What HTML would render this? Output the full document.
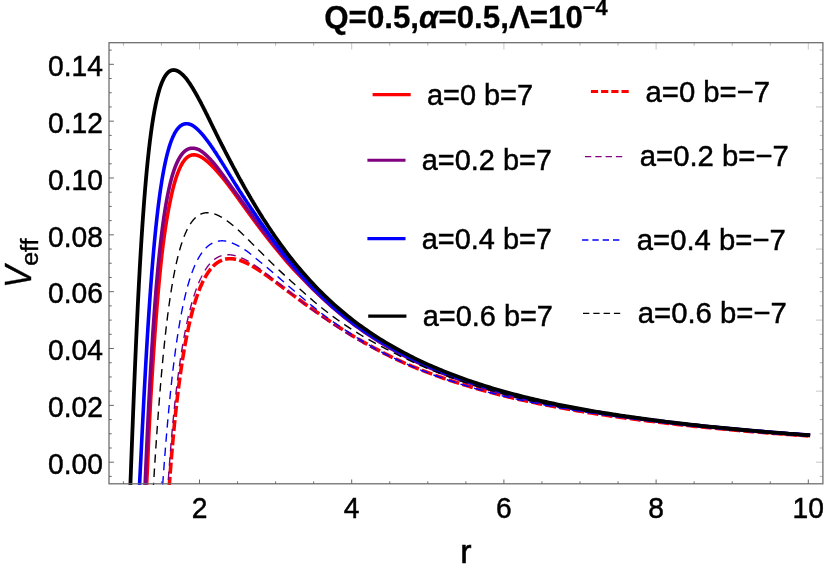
<!DOCTYPE html><html><head><meta charset="utf-8"><title>Veff</title><style>html,body{margin:0;padding:0;background:#fff}svg{display:block;will-change:transform}text{font-family:"Liberation Sans",sans-serif;fill:#000}</style></head><body>
<svg width="830" height="572" viewBox="0 0 830 572">
<rect width="830" height="572" fill="#fff"/>
<defs><clipPath id="c"><rect x="109.0" y="42.7" width="713.9" height="442.40000000000003"/></clipPath></defs>
<g clip-path="url(#c)" fill="none" stroke-linejoin="round">
<path d="M146.23 492.16 L146.37 489.25 L146.52 486.34 L146.67 483.43 L146.81 480.53 L146.96 477.64 L147.11 474.76 L147.25 471.89 L147.39 469.02 L147.51 466.16 L147.63 463.32 L147.75 460.48 L147.87 457.65 L147.99 454.84 L148.10 452.04 L148.22 449.24 L148.34 446.46 L148.46 443.69 L148.59 440.94 L148.71 438.20 L148.83 435.47 L148.96 432.75 L149.08 430.05 L149.21 427.36 L149.34 424.69 L149.47 422.03 L149.60 419.38 L149.73 416.75 L149.87 414.14 L150.00 411.54 L150.14 408.95 L150.28 406.38 L150.42 403.83 L150.57 401.29 L150.71 398.77 L150.86 396.26 L151.01 393.77 L151.15 391.30 L151.30 388.84 L151.45 386.40 L151.59 383.98 L151.74 381.57 L151.89 379.18 L152.03 376.80 L152.18 374.44 L152.33 372.10 L152.47 369.78 L152.62 367.47 L152.77 365.18 L152.91 362.91 L153.06 360.65 L153.21 358.41 L153.35 356.19 L153.50 353.98 L153.65 351.79 L153.79 349.62 L153.94 347.47 L154.09 345.33 L154.23 343.21 L154.38 341.11 L154.53 339.02 L154.68 336.95 L154.82 334.90 L154.97 332.86 L155.12 330.84 L155.26 328.84 L155.41 326.85 L155.56 324.88 L155.70 322.93 L155.85 320.99 L156.00 319.07 L156.14 317.17 L156.29 315.28 L156.44 313.41 L156.58 311.55 L156.73 309.72 L156.88 307.89 L157.02 306.09 L157.17 304.30 L157.32 302.52 L157.46 300.76 L157.61 299.02 L157.76 297.29 L157.90 295.58 L158.05 293.89 L158.20 292.20 L158.34 290.54 L158.49 288.89 L158.64 287.25 L158.78 285.64 L158.93 284.03 L159.08 282.44 L159.22 280.87 L159.37 279.31 L159.52 277.76 L159.66 276.23 L159.81 274.72 L159.96 273.21 L160.10 271.73 L160.25 270.25 L160.40 268.80 L160.54 267.35 L160.69 265.92 L160.84 264.50 L160.98 263.10 L161.13 261.71 L161.28 260.34 L161.42 258.98 L161.57 257.63 L161.72 256.29 L161.87 254.97 L162.02 253.66 L162.17 252.37 L162.32 251.08 L162.47 249.81 L162.62 248.56 L162.78 247.31 L162.93 246.08 L163.08 244.86 L163.24 243.66 L163.39 242.46 L163.55 241.28 L163.70 240.11 L163.86 238.95 L164.01 237.81 L164.17 236.67 L164.33 235.55 L164.48 234.44 L164.64 233.34 L164.80 232.26 L164.95 231.18 L165.11 230.12 L165.27 229.06 L165.42 228.02 L165.58 226.99 L165.74 225.97 L165.90 224.96 L166.05 223.96 L166.21 222.98 L166.37 222.00 L166.53 221.03 L166.68 220.08 L166.84 219.13 L167.00 218.20 L167.15 217.27 L167.31 216.36 L167.47 215.45 L167.63 214.56 L167.78 213.68 L167.94 212.80 L168.10 211.94 L168.25 211.08 L168.41 210.23 L168.56 209.40 L168.72 208.57 L168.88 207.75 L169.03 206.95 L169.19 206.15 L169.34 205.36 L169.50 204.58 L169.65 203.80 L169.81 203.04 L169.96 202.29 L170.12 201.54 L170.27 200.80 L170.43 200.08 L170.58 199.36 L170.72 198.64 L170.87 197.94 L171.02 197.25 L171.16 196.56 L171.31 195.88 L171.46 195.21 L171.60 194.55 L171.75 193.89 L171.90 193.25 L172.04 192.61 L172.19 191.98 L172.34 191.35 L172.48 190.74 L172.63 190.13 L172.78 189.53 L172.92 188.94 L173.07 188.35 L173.22 187.77 L173.36 187.20 L173.51 186.63 L173.66 186.08 L173.80 185.53 L173.95 184.98 L174.10 184.45 L174.24 183.92 L174.39 183.39 L174.54 182.88 L174.68 182.37 L174.83 181.87 L174.98 181.37 L175.12 180.88 L175.27 180.40 L175.42 179.92 L175.56 179.45 L175.71 178.98 L175.86 178.52 L176.00 178.07 L176.15 177.62 L176.30 177.18 L176.44 176.75 L176.59 176.32 L176.74 175.90 L176.88 175.48 L177.03 175.07 L177.18 174.67 L177.32 174.27 L177.47 173.87 L177.62 173.48 L177.76 173.08 L177.91 172.68 L178.06 172.30 L178.20 171.91 L178.35 171.54 L178.50 171.16 L178.64 170.80 L178.79 170.44 L178.94 170.08 L179.08 169.73 L179.23 169.38 L179.38 169.04 L179.52 168.71 L179.67 168.38 L179.82 168.06 L179.96 167.74 L180.11 167.42 L180.26 167.11 L180.40 166.81 L180.55 166.51 L180.70 166.21 L180.84 165.92 L180.99 165.64 L181.14 165.35 L181.28 165.08 L181.43 164.81 L181.58 164.54 L181.72 164.28 L181.87 164.02 L182.02 163.76 L182.16 163.52 L182.31 163.27 L182.46 163.03 L182.60 162.79 L182.75 162.56 L182.90 162.33 L183.04 162.11 L183.19 161.89 L183.34 161.67 L183.48 161.46 L183.63 161.25 L183.78 161.05 L183.92 160.85 L184.07 160.66 L184.22 160.46 L184.36 160.28 L184.51 160.09 L184.66 159.91 L184.80 159.73 L184.95 159.56 L185.10 159.39 L185.24 159.22 L185.39 159.06 L185.54 158.90 L185.68 158.75 L185.83 158.60 L185.98 158.45 L186.12 158.30 L186.27 158.16 L186.42 158.02 L186.56 157.89 L186.71 157.76 L186.86 157.63 L187.00 157.51 L187.15 157.38 L187.30 157.27 L187.44 157.15 L187.59 157.04 L187.74 156.93 L187.88 156.82 L188.03 156.72 L188.18 156.62 L188.32 156.53 L188.47 156.43 L188.62 156.34 L188.76 156.25 L188.91 156.17 L189.06 156.09 L189.20 156.01 L189.35 155.93 L189.50 155.86 L189.65 155.79 L189.79 155.72 L189.94 155.65 L190.09 155.59 L190.23 155.53 L190.38 155.47 L190.53 155.42 L190.67 155.36 L190.82 155.31 L190.97 155.27 L191.11 155.22 L191.26 155.18 L191.41 155.14 L191.55 155.10 L191.70 155.07 L191.85 155.04 L191.99 155.01 L192.14 154.98 L192.29 154.96 L192.43 154.93 L192.58 154.91 L192.73 154.89 L192.87 154.88 L193.02 154.86 L193.17 154.85 L193.31 154.84 L193.46 154.84 L193.61 154.83 L193.75 154.83 L193.90 154.83 L194.05 154.83 L194.19 154.83 L194.34 154.84 L194.49 154.85 L194.63 154.86 L194.78 154.87 L194.93 154.88 L195.07 154.90 L195.22 154.92 L195.37 154.94 L195.51 154.96 L195.66 154.98 L195.81 155.00 L195.95 155.03 L196.10 155.06 L196.25 155.09 L196.39 155.12 L196.54 155.16 L196.69 155.19 L196.83 155.23 L196.98 155.27 L197.13 155.31 L197.27 155.35 L197.42 155.39 L197.57 155.44 L197.71 155.49 L197.86 155.53 L198.01 155.58 L198.15 155.64 L198.30 155.69 L198.45 155.74 L198.59 155.80 L198.74 155.86 L198.89 155.92 L199.03 155.98 L199.18 156.04 L199.33 156.10 L199.47 156.17 L199.62 156.24 L199.77 156.30 L199.91 156.37 L200.06 156.44 L200.21 156.52 L200.35 156.59 L200.50 156.67 L200.65 156.74 L200.79 156.82 L200.94 156.90 L201.09 156.98 L201.23 157.06 L201.38 157.14 L201.53 157.23 L201.67 157.31 L201.82 157.40 L201.97 157.49 L202.11 157.58 L202.26 157.67 L202.41 157.76 L202.55 157.85 L202.70 157.94 L202.85 158.04 L202.99 158.14 L203.14 158.23 L203.29 158.33 L203.43 158.43 L203.58 158.53 L203.73 158.63 L203.87 158.74 L204.02 158.84 L204.17 158.95 L204.31 159.05 L204.46 159.16 L204.61 159.27 L204.75 159.38 L204.90 159.49 L205.05 159.60 L205.19 159.71 L205.34 159.83 L205.49 159.94 L205.63 160.05 L205.78 160.17 L205.93 160.29 L206.07 160.41 L206.22 160.53 L206.37 160.65 L206.51 160.77 L206.66 160.89 L206.81 161.01 L206.95 161.14 L207.10 161.26 L207.25 161.39 L207.39 161.51 L207.54 161.64 L207.69 161.77 L207.83 161.90 L207.98 162.03 L208.13 162.16 L208.27 162.29 L208.42 162.43 L208.57 162.56 L208.71 162.69 L208.86 162.83 L209.01 162.96 L209.15 163.10 L209.30 163.24 L209.45 163.38 L209.59 163.52 L209.74 163.65 L209.89 163.80 L210.03 163.94 L210.18 164.08 L210.33 164.22 L210.47 164.36 L210.62 164.51 L210.77 164.65 L210.91 164.80 L211.06 164.94 L211.21 165.09 L211.35 165.23 L211.50 165.38 L211.65 165.53 L211.79 165.68 L211.94 165.82 L212.09 165.97 L212.23 166.12 L212.38 166.27 L212.53 166.42 L212.67 166.57 L212.82 166.72 L212.97 166.87 L213.11 167.03 L213.26 167.18 L213.41 167.33 L213.55 167.48 L213.70 167.64 L213.85 167.79 L213.99 167.95 L214.14 168.10 L214.29 168.26 L214.43 168.41 L214.58 168.57 L214.73 168.72 L214.87 168.88 L215.02 169.04 L215.17 169.20 L215.31 169.35 L215.46 169.51 L215.61 169.67 L215.75 169.83 L215.90 169.99 L216.05 170.15 L216.19 170.31 L216.34 170.47 L216.49 170.64 L216.63 170.80 L216.78 170.96 L216.93 171.12 L217.07 171.29 L217.22 171.45 L217.37 171.62 L217.51 171.78 L217.66 171.94 L217.81 172.11 L217.95 172.28 L218.10 172.44 L218.25 172.61 L218.39 172.78 L218.54 172.94 L218.69 173.11 L218.83 173.28 L218.98 173.45 L219.13 173.62 L219.27 173.79 L219.42 173.96 L219.57 174.13 L219.71 174.30 L219.86 174.47 L220.01 174.64 L220.15 174.81 L220.30 174.98 L220.45 175.16 L220.59 175.33 L220.74 175.50 L220.89 175.68 L221.03 175.85 L221.18 176.03 L221.33 176.20 L221.47 176.38 L221.62 176.55 L221.77 176.73 L221.91 176.91 L222.06 177.08 L222.21 177.26 L222.35 177.44 L222.50 177.62 L222.65 177.80 L222.79 177.97 L222.94 178.15 L223.09 178.33 L223.23 178.51 L223.38 178.70 L223.53 178.88 L223.67 179.06 L223.82 179.24 L223.97 179.42 L224.12 179.61 L224.26 179.79 L224.41 179.97 L224.56 180.16 L224.70 180.34 L224.85 180.53 L225.00 180.71 L225.14 180.90 L225.29 181.08 L225.44 181.27 L225.58 181.46 L225.73 181.65 L225.88 181.83 L226.02 182.02 L226.17 182.21 L226.32 182.40 L226.46 182.59 L226.61 182.78 L226.76 182.97 L226.90 183.16 L227.05 183.35 L227.20 183.55 L227.34 183.74 L227.49 183.93 L227.64 184.12 L227.78 184.32 L227.93 184.51 L228.08 184.70 L228.22 184.90 L228.37 185.09 L228.52 185.29 L228.66 185.48 L228.81 185.68 L228.96 185.87 L229.10 186.07 L229.25 186.26 L229.40 186.46 L229.54 186.65 L229.69 186.85 L229.84 187.05 L229.98 187.24 L230.13 187.44 L230.28 187.64 L230.42 187.83 L230.57 188.03 L230.72 188.23 L230.86 188.43 L231.01 188.62 L231.16 188.82 L231.30 189.02 L231.45 189.22 L231.60 189.42 L231.74 189.62 L231.89 189.81 L232.04 190.01 L232.18 190.21 L232.33 190.41 L232.48 190.61 L232.62 190.81 L232.77 191.01 L232.92 191.21 L233.06 191.41 L233.21 191.61 L233.36 191.81 L233.50 192.01 L233.65 192.21 L233.80 192.41 L233.94 192.62 L234.09 192.82 L234.24 193.02 L234.38 193.22 L234.53 193.42 L234.68 193.62 L234.82 193.82 L234.97 194.02 L235.12 194.23 L235.26 194.43 L235.41 194.63 L235.56 194.83 L235.70 195.03 L235.85 195.24 L236.00 195.44 L236.14 195.64 L236.29 195.84 L236.44 196.05 L236.58 196.25 L236.73 196.45 L236.88 196.65 L237.02 196.86 L237.17 197.06 L237.32 197.26 L237.46 197.47 L237.61 197.67 L237.76 197.87 L237.90 198.07 L238.05 198.28 L238.20 198.48 L238.34 198.68 L238.49 198.89 L238.64 199.09 L238.78 199.29 L238.93 199.50 L239.08 199.70 L239.22 199.90 L239.37 200.11 L239.52 200.31 L239.66 200.52 L239.81 200.72 L239.96 200.92 L240.10 201.13 L240.25 201.33 L240.40 201.53 L240.54 201.74 L240.69 201.94 L240.84 202.14 L240.98 202.35 L241.13 202.55 L241.28 202.75 L241.42 202.96 L241.57 203.16 L241.72 203.37 L241.86 203.57 L242.01 203.77 L242.16 203.98 L242.30 204.18 L242.45 204.38 L242.60 204.59 L242.74 204.79 L242.89 204.99 L243.04 205.20 L243.18 205.40 L243.33 205.60 L243.48 205.81 L243.62 206.01 L243.77 206.21 L243.92 206.42 L244.06 206.62 L244.21 206.82 L244.36 207.03 L244.50 207.23 L244.65 207.43 L244.80 207.63 L244.94 207.84 L245.09 208.04 L245.24 208.24 L245.38 208.45 L245.53 208.65 L245.68 208.85 L245.82 209.05 L245.97 209.26 L246.12 209.46 L246.26 209.66 L246.41 209.86 L246.56 210.06 L246.70 210.27 L246.85 210.47 L247.00 210.67 L247.14 210.87 L247.29 211.07 L247.44 211.28 L247.58 211.48 L247.73 211.68 L247.88 211.88 L248.02 212.08 L248.17 212.28 L248.32 212.48 L248.46 212.68 L248.61 212.88 L248.76 213.09 L248.90 213.29 L249.05 213.49 L249.20 213.69 L249.34 213.89 L249.49 214.09 L249.64 214.29 L249.78 214.49 L249.93 214.69 L250.08 214.89 L250.22 215.09 L250.37 215.29 L250.52 215.49 L250.66 215.69 L250.81 215.89 L250.96 216.09 L251.10 216.28 L251.25 216.48 L251.40 216.68 L251.54 216.88 L251.69 217.08 L251.84 217.28 L251.98 217.48 L252.13 217.68 L252.28 217.88 L252.42 218.08 L252.57 218.28 L252.72 218.47 L252.86 218.67 L253.01 218.87 L253.16 219.07 L253.30 219.27 L253.45 219.47 L253.60 219.66 L253.74 219.86 L253.89 220.06 L254.04 220.26 L254.18 220.46 L254.33 220.65 L254.48 220.85 L254.62 221.05 L254.77 221.25 L254.92 221.44 L255.06 221.64 L255.21 221.84 L255.36 222.03 L255.50 222.23 L255.65 222.43 L255.80 222.63 L255.94 222.82 L256.09 223.02 L256.24 223.22 L256.38 223.41 L256.53 223.61 L256.68 223.80 L256.82 224.00 L256.97 224.20 L257.12 224.39 L257.26 224.59 L257.41 224.78 L257.56 224.98 L257.70 225.18 L257.85 225.37 L258.00 225.57 L258.14 225.76 L258.29 225.96 L258.44 226.15 L258.59 226.35 L258.73 226.54 L258.88 226.74 L259.03 226.93 L259.17 227.13 L259.32 227.32 L259.47 227.51 L259.61 227.71 L259.76 227.90 L259.91 228.10 L260.05 228.29 L260.20 228.48 L260.35 228.68 L260.49 228.87 L260.64 229.06 L260.79 229.26 L260.93 229.45 L261.08 229.64 L261.23 229.84 L261.37 230.03 L261.52 230.22 L261.67 230.42 L261.81 230.61 L261.96 230.80 L262.11 230.99 L262.25 231.19 L262.40 231.38 L262.55 231.57 L262.69 231.76 L262.84 231.95 L262.99 232.15 L263.13 232.34 L263.28 232.53 L263.43 232.72 L263.57 232.91 L263.72 233.10 L263.87 233.29 L264.01 233.48 L264.16 233.67 L264.31 233.87 L264.45 234.06 L264.60 234.25 L264.75 234.44 L264.89 234.63 L265.04 234.82 L265.19 235.01 L265.33 235.20 L265.48 235.39 L265.63 235.58 L265.77 235.77 L265.92 235.96 L266.07 236.14 L266.21 236.33 L266.36 236.52 L266.51 236.71 L266.65 236.90 L266.80 237.09 L266.95 237.28 L267.09 237.47 L267.24 237.65 L267.39 237.84 L267.53 238.03 L267.68 238.22 L267.83 238.41 L267.97 238.59 L268.12 238.78 L268.27 238.97 L268.41 239.16 L268.56 239.34 L268.71 239.53 L268.85 239.72 L269.00 239.90 L269.15 240.09 L269.29 240.28 L269.44 240.46 L269.59 240.65 L269.73 240.84 L269.88 241.02 L270.03 241.21 L270.17 241.39 L270.32 241.58 L270.47 241.77 L270.61 241.95 L270.76 242.14 L270.91 242.32 L271.05 242.51 L271.20 242.69 L271.35 242.88 L271.49 243.06 L271.64 243.25 L271.79 243.43 L271.93 243.61 L272.08 243.80 L272.23 243.98 L272.37 244.17 L272.52 244.35 L272.67 244.53 L272.81 244.72 L272.96 244.90 L273.11 245.08 L273.25 245.27 L273.40 245.45 L273.55 245.63 L273.69 245.82 L273.84 246.00 L273.99 246.18 L274.13 246.36 L274.28 246.55 L274.43 246.73 L274.57 246.91 L274.72 247.09 L274.87 247.27 L275.01 247.45 L275.16 247.64 L275.31 247.82 L275.45 248.00 L275.60 248.18 L278.28 251.46 L280.95 254.69 L283.63 257.87 L286.31 261.00 L288.98 264.09 L291.66 267.12 L294.34 270.09 L297.02 272.84 L299.69 275.50 L302.37 278.32 L305.05 281.10 L307.72 283.83 L310.40 286.50 L313.08 289.13 L315.75 291.71 L318.43 294.24 L321.11 296.73 L323.78 299.16 L326.46 301.56 L329.14 303.90 L331.81 306.21 L334.49 308.46 L337.17 310.68 L339.85 312.85 L342.52 314.99 L345.20 317.08 L347.88 319.13 L350.55 321.16 L353.23 323.15 L355.91 325.11 L358.58 327.04 L361.26 328.93 L363.94 330.79 L366.61 332.63 L369.29 334.43 L371.97 336.19 L374.64 337.93 L377.32 339.64 L380.00 341.31 L382.68 342.96 L385.35 344.57 L388.03 346.16 L390.71 347.71 L393.38 349.23 L396.06 350.72 L398.74 352.18 L401.41 353.61 L404.09 355.01 L406.77 356.39 L409.44 357.74 L412.12 359.07 L414.80 360.37 L417.47 361.66 L420.15 362.91 L422.83 364.15 L425.51 365.36 L428.18 366.55 L430.86 367.72 L433.54 368.87 L436.21 370.00 L438.89 371.11 L441.57 372.20 L444.24 373.27 L446.92 374.33 L449.60 375.36 L452.27 376.38 L454.95 377.38 L457.63 378.36 L460.31 379.32 L462.98 380.27 L465.66 381.21 L468.34 382.12 L471.01 383.03 L473.69 383.91 L476.37 384.79 L479.04 385.64 L481.72 386.49 L484.40 387.32 L487.07 388.14 L489.75 388.94 L492.43 389.73 L495.10 390.51 L497.78 391.28 L500.46 392.03 L503.14 392.77 L505.81 393.50 L508.49 394.22 L511.17 394.93 L513.84 395.62 L516.52 396.31 L519.20 396.98 L521.87 397.64 L524.55 398.28 L527.23 398.92 L529.90 399.54 L532.58 400.16 L535.26 400.76 L537.93 401.36 L540.61 401.95 L543.29 402.53 L545.97 403.10 L548.64 403.67 L551.32 404.22 L554.00 404.77 L556.67 405.31 L559.35 405.84 L562.03 406.37 L564.70 406.88 L567.38 407.39 L570.06 407.90 L572.73 408.39 L575.41 408.88 L578.09 409.36 L580.76 409.84 L583.44 410.31 L586.12 410.77 L588.80 411.23 L591.47 411.68 L594.15 412.12 L596.83 412.56 L599.50 412.99 L602.18 413.42 L604.86 413.84 L607.53 414.25 L610.21 414.66 L612.89 415.07 L615.56 415.47 L618.24 415.86 L620.92 416.25 L623.59 416.64 L626.27 417.02 L628.95 417.39 L631.63 417.76 L634.30 418.12 L636.98 418.49 L639.66 418.84 L642.33 419.20 L645.01 419.56 L647.69 419.91 L650.36 420.26 L653.04 420.61 L655.72 420.95 L658.39 421.29 L661.07 421.62 L663.75 421.95 L666.43 422.28 L669.10 422.60 L671.78 422.92 L674.46 423.23 L677.13 423.54 L679.81 423.85 L682.49 424.16 L685.16 424.46 L687.84 424.75 L690.52 425.05 L693.19 425.34 L695.87 425.63 L698.55 425.91 L701.22 426.19 L703.90 426.47 L706.58 426.75 L709.26 427.02 L711.93 427.29 L714.61 427.55 L717.29 427.82 L719.96 428.08 L722.64 428.34 L725.32 428.59 L727.99 428.85 L730.67 429.10 L733.35 429.34 L736.02 429.59 L738.70 429.83 L741.38 430.07 L744.05 430.31 L746.73 430.54 L749.41 430.78 L752.09 431.01 L754.76 431.23 L757.44 431.46 L760.12 431.68 L762.79 431.91 L765.47 432.12 L768.15 432.34 L770.82 432.56 L773.50 432.77 L776.18 432.98 L778.85 433.19 L781.53 433.40 L784.21 433.60 L786.88 433.80 L789.56 434.00 L792.24 434.20 L794.92 434.40 L797.59 434.59 L800.27 434.79 L802.95 434.98 L805.62 435.17 L808.30 435.36" stroke="#ff0000" stroke-width="3.6" stroke-linecap="square"/>
<path d="M168.77 492.66 L168.89 490.90 L169.01 489.16 L169.13 487.43 L169.26 485.72 L169.38 484.02 L169.50 482.33 L169.62 480.66 L169.74 479.01 L169.87 477.36 L169.99 475.73 L170.11 474.12 L170.23 472.51 L170.35 470.92 L170.47 469.34 L170.60 467.78 L170.72 466.23 L170.84 464.69 L170.96 463.16 L171.08 461.64 L171.21 460.14 L171.33 458.65 L171.45 457.17 L171.57 455.70 L171.69 454.25 L171.81 452.80 L171.94 451.37 L172.06 449.94 L172.18 448.53 L172.30 447.13 L172.42 445.74 L172.55 444.36 L172.67 443.00 L172.79 441.64 L172.91 440.29 L173.03 438.95 L173.15 437.63 L173.28 436.31 L173.40 435.00 L173.52 433.71 L173.64 432.42 L173.76 431.14 L173.89 429.87 L174.01 428.61 L174.13 427.37 L174.25 426.13 L174.37 424.90 L174.49 423.67 L174.62 422.46 L174.74 421.26 L174.86 420.06 L174.98 418.88 L175.10 417.70 L175.23 416.53 L175.35 415.37 L175.47 414.22 L175.59 413.08 L175.71 411.94 L175.83 410.81 L175.96 409.70 L176.08 408.58 L176.20 407.48 L176.32 406.39 L176.44 405.30 L176.57 404.22 L176.69 403.15 L176.81 402.08 L176.93 401.03 L177.05 399.98 L177.17 398.94 L177.30 397.90 L177.42 396.88 L177.54 395.86 L177.66 394.84 L177.78 393.84 L177.91 392.84 L178.03 391.85 L178.15 390.86 L178.27 389.89 L178.39 388.91 L178.51 387.95 L178.64 386.99 L178.76 386.04 L178.88 385.10 L179.00 384.16 L179.12 383.23 L179.24 382.30 L179.37 381.38 L179.49 380.47 L179.61 379.56 L179.73 378.66 L179.85 377.77 L179.98 376.88 L180.10 376.00 L180.22 375.12 L180.34 374.25 L180.46 373.39 L180.58 372.53 L180.71 371.68 L180.83 370.83 L180.95 369.99 L181.07 369.15 L181.19 368.32 L181.32 367.50 L181.44 366.68 L181.56 365.86 L181.68 365.06 L181.80 364.25 L181.92 363.45 L182.05 362.66 L182.17 361.88 L182.29 361.09 L182.41 360.32 L182.53 359.55 L182.66 358.78 L182.78 358.02 L182.90 357.26 L183.02 356.51 L183.14 355.76 L183.26 355.02 L183.39 354.29 L183.51 353.55 L183.63 352.83 L183.75 352.10 L183.87 351.39 L184.00 350.67 L184.12 349.97 L184.24 349.26 L184.36 348.56 L184.48 347.87 L184.60 347.18 L184.73 346.49 L184.85 345.81 L184.97 345.14 L185.09 344.46 L185.21 343.80 L185.34 343.13 L185.46 342.47 L185.58 341.82 L185.70 341.17 L185.82 340.52 L185.94 339.88 L186.07 339.24 L186.19 338.61 L186.31 337.98 L186.43 337.35 L186.55 336.73 L186.68 336.11 L186.80 335.50 L186.92 334.89 L187.04 334.29 L187.16 333.68 L187.28 333.09 L187.41 332.49 L187.53 331.90 L187.65 331.32 L187.77 330.73 L187.89 330.15 L188.02 329.58 L188.14 329.01 L188.26 328.44 L188.38 327.88 L188.50 327.32 L188.62 326.76 L188.75 326.21 L188.87 325.66 L188.99 325.11 L189.11 324.57 L189.23 324.03 L189.36 323.49 L189.48 322.96 L189.60 322.43 L189.72 321.91 L189.84 321.39 L189.96 320.87 L190.09 320.35 L190.21 319.84 L190.33 319.33 L190.45 318.83 L190.57 318.33 L190.70 317.83 L190.82 317.33 L190.94 316.84 L191.06 316.35 L191.18 315.86 L191.30 315.38 L191.43 314.90 L191.55 314.43 L191.67 313.95 L191.79 313.48 L191.91 313.02 L192.04 312.55 L192.16 312.09 L192.28 311.63 L192.40 311.18 L192.52 310.73 L192.64 310.28 L192.77 309.83 L192.89 309.39 L193.01 308.95 L193.13 308.51 L193.25 308.07 L193.38 307.64 L193.50 307.21 L193.62 306.79 L193.74 306.36 L193.86 305.94 L193.98 305.53 L194.11 305.11 L194.23 304.70 L194.35 304.29 L194.47 303.88 L194.59 303.48 L194.72 303.08 L194.84 302.68 L194.96 302.28 L195.08 301.89 L195.20 301.50 L195.32 301.11 L195.45 300.72 L195.57 300.34 L195.69 299.96 L195.81 299.58 L195.93 299.21 L196.06 298.83 L196.18 298.46 L196.30 298.10 L196.42 297.73 L196.54 297.37 L196.66 297.01 L196.79 296.65 L196.91 296.29 L197.03 295.94 L197.15 295.59 L197.27 295.24 L197.40 294.89 L197.52 294.55 L197.64 294.21 L197.76 293.87 L197.88 293.53 L198.00 293.20 L198.13 292.87 L198.25 292.54 L198.37 292.21 L198.49 291.88 L198.61 291.56 L198.74 291.24 L198.86 290.92 L198.98 290.60 L199.10 290.29 L199.22 289.98 L199.34 289.67 L199.47 289.36 L199.59 289.06 L199.71 288.75 L199.83 288.45 L199.95 288.15 L200.08 287.85 L200.20 287.56 L200.32 287.27 L200.44 286.98 L200.56 286.69 L200.68 286.40 L200.81 286.12 L200.93 285.83 L201.05 285.55 L201.17 285.27 L201.29 285.00 L201.42 284.72 L201.54 284.45 L201.66 284.18 L201.78 283.91 L201.90 283.65 L202.02 283.38 L202.15 283.12 L202.27 282.86 L202.39 282.60 L202.51 282.34 L202.63 282.09 L202.76 281.83 L202.88 281.58 L203.00 281.33 L203.12 281.08 L203.24 280.84 L203.36 280.59 L203.49 280.35 L203.61 280.11 L203.73 279.87 L203.85 279.64 L203.97 279.40 L204.10 279.17 L204.22 278.94 L204.34 278.71 L204.46 278.48 L204.58 278.25 L204.70 278.03 L204.83 277.81 L204.95 277.58 L205.07 277.37 L205.19 277.15 L205.31 276.93 L205.44 276.72 L205.56 276.50 L205.68 276.29 L205.80 276.08 L205.92 275.88 L206.04 275.67 L206.17 275.47 L206.29 275.26 L206.41 275.06 L206.53 274.86 L206.65 274.67 L206.77 274.47 L206.90 274.27 L207.02 274.08 L207.14 273.89 L207.26 273.70 L207.38 273.51 L207.51 273.33 L207.63 273.14 L207.75 272.96 L207.87 272.77 L207.99 272.59 L208.11 272.41 L208.24 272.24 L208.36 272.06 L208.48 271.88 L208.60 271.71 L208.72 271.54 L208.85 271.37 L208.97 271.20 L209.09 271.03 L209.21 270.87 L209.33 270.70 L209.45 270.54 L209.58 270.38 L209.70 270.22 L209.82 270.06 L209.94 269.90 L210.06 269.74 L210.19 269.59 L210.31 269.44 L210.43 269.28 L210.55 269.13 L210.67 268.98 L210.79 268.84 L210.92 268.69 L211.04 268.54 L211.16 268.40 L211.28 268.26 L211.40 268.12 L211.53 267.98 L211.65 267.84 L211.77 267.70 L211.89 267.56 L212.01 267.43 L212.13 267.30 L212.26 267.16 L212.38 267.03 L212.50 266.90 L212.62 266.77 L212.74 266.65 L212.87 266.52 L212.99 266.40 L213.11 266.27 L213.23 266.15 L213.35 266.03 L213.47 265.91 L213.60 265.79 L213.72 265.67 L213.84 265.56 L213.96 265.44 L214.08 265.33 L214.21 265.22 L214.33 265.10 L214.45 264.99 L214.57 264.88 L214.69 264.78 L214.81 264.67 L214.94 264.56 L215.06 264.46 L215.18 264.36 L215.30 264.25 L215.42 264.15 L215.55 264.05 L215.67 263.95 L215.79 263.85 L215.91 263.76 L216.03 263.66 L216.15 263.57 L216.28 263.47 L216.40 263.38 L216.52 263.29 L216.64 263.20 L216.76 263.11 L216.89 263.02 L217.01 262.93 L217.13 262.85 L217.25 262.76 L217.37 262.68 L217.49 262.60 L217.62 262.51 L217.74 262.43 L217.86 262.35 L217.98 262.27 L218.10 262.20 L218.23 262.12 L218.35 262.04 L218.47 261.97 L218.59 261.89 L218.71 261.82 L218.83 261.75 L218.96 261.68 L219.08 261.61 L219.20 261.54 L219.32 261.47 L219.44 261.40 L219.57 261.34 L219.69 261.27 L219.81 261.21 L219.93 261.14 L220.05 261.08 L220.17 261.02 L220.30 260.96 L220.42 260.90 L220.54 260.84 L220.66 260.78 L220.78 260.72 L220.91 260.67 L221.03 260.61 L221.15 260.56 L221.27 260.50 L221.39 260.45 L221.51 260.40 L221.64 260.35 L221.76 260.30 L221.88 260.25 L222.00 260.20 L222.12 260.15 L222.25 260.11 L222.37 260.06 L222.49 260.01 L222.61 259.97 L222.73 259.93 L222.85 259.88 L222.98 259.84 L223.10 259.80 L223.22 259.76 L223.34 259.72 L223.46 259.68 L223.59 259.65 L223.71 259.61 L223.83 259.57 L223.95 259.54 L224.07 259.50 L224.19 259.47 L224.32 259.44 L224.44 259.40 L224.56 259.37 L224.68 259.34 L224.80 259.31 L224.93 259.28 L225.05 259.26 L225.17 259.23 L225.29 259.20 L225.41 259.17 L225.53 259.15 L225.66 259.12 L225.78 259.10 L225.90 259.08 L226.02 259.05 L226.14 259.03 L226.27 259.01 L226.39 258.99 L226.51 258.97 L226.63 258.95 L226.75 258.93 L226.87 258.92 L227.00 258.90 L227.12 258.88 L227.24 258.87 L227.36 258.85 L227.48 258.84 L227.61 258.83 L227.73 258.81 L227.85 258.80 L227.97 258.79 L228.09 258.78 L228.21 258.77 L228.34 258.76 L228.46 258.75 L228.58 258.74 L228.70 258.74 L228.82 258.73 L228.95 258.72 L229.07 258.72 L229.19 258.71 L229.31 258.71 L229.43 258.70 L229.55 258.70 L229.68 258.70 L229.80 258.70 L229.92 258.70 L230.04 258.70 L230.16 258.70 L230.29 258.70 L230.41 258.70 L230.53 258.70 L230.65 258.70 L230.77 258.70 L230.89 258.71 L231.02 258.71 L231.14 258.72 L231.26 258.72 L231.38 258.73 L231.50 258.74 L231.63 258.74 L231.75 258.75 L231.87 258.76 L231.99 258.77 L232.11 258.78 L232.23 258.79 L232.36 258.80 L232.48 258.81 L232.60 258.82 L232.72 258.83 L232.84 258.84 L232.97 258.86 L233.09 258.87 L233.21 258.88 L233.33 258.90 L233.45 258.91 L233.57 258.93 L233.70 258.95 L233.82 258.96 L233.94 258.98 L234.06 259.00 L234.18 259.02 L234.30 259.04 L234.43 259.06 L234.55 259.08 L234.67 259.10 L234.79 259.12 L234.91 259.14 L235.04 259.16 L235.16 259.18 L235.28 259.21 L235.40 259.23 L235.52 259.25 L235.64 259.28 L235.77 259.30 L235.89 259.33 L236.01 259.35 L236.13 259.38 L236.25 259.41 L236.38 259.43 L236.50 259.46 L236.62 259.49 L236.74 259.52 L236.86 259.55 L236.98 259.58 L237.11 259.60 L237.23 259.64 L237.35 259.67 L237.47 259.70 L237.59 259.73 L237.72 259.76 L237.84 259.79 L237.96 259.83 L238.08 259.86 L238.20 259.89 L238.32 259.93 L238.45 259.96 L238.57 260.00 L238.69 260.03 L238.81 260.07 L238.93 260.10 L239.06 260.14 L239.18 260.18 L239.30 260.22 L239.42 260.25 L239.54 260.29 L239.66 260.33 L239.79 260.37 L239.91 260.41 L240.03 260.45 L240.15 260.49 L240.27 260.53 L240.40 260.57 L240.52 260.61 L240.64 260.66 L240.76 260.70 L240.88 260.74 L241.00 260.78 L241.13 260.83 L241.25 260.87 L241.37 260.91 L241.49 260.96 L241.61 261.00 L241.74 261.05 L241.86 261.09 L241.98 261.14 L242.10 261.19 L242.22 261.23 L242.34 261.28 L242.47 261.33 L242.59 261.37 L242.71 261.42 L242.83 261.47 L242.95 261.52 L243.08 261.57 L243.20 261.62 L243.32 261.67 L243.44 261.72 L243.56 261.77 L243.68 261.82 L243.81 261.87 L243.93 261.92 L244.05 261.97 L244.17 262.03 L244.29 262.08 L244.42 262.13 L244.54 262.18 L244.66 262.24 L244.78 262.29 L244.90 262.34 L245.02 262.40 L245.15 262.45 L245.27 262.51 L245.39 262.56 L245.51 262.62 L245.63 262.67 L245.76 262.73 L245.88 262.79 L246.00 262.84 L246.12 262.90 L246.24 262.96 L246.36 263.02 L246.49 263.07 L246.61 263.13 L246.73 263.19 L246.85 263.25 L246.97 263.31 L247.10 263.37 L247.22 263.43 L247.34 263.49 L247.46 263.55 L247.58 263.61 L247.70 263.67 L247.83 263.73 L247.95 263.79 L248.07 263.85 L248.19 263.91 L248.31 263.97 L248.44 264.04 L248.56 264.10 L248.68 264.16 L248.80 264.22 L248.92 264.29 L249.04 264.35 L249.17 264.42 L249.29 264.48 L249.41 264.54 L249.53 264.61 L249.65 264.67 L249.78 264.74 L249.90 264.80 L250.02 264.87 L250.14 264.93 L250.26 265.00 L250.38 265.07 L250.51 265.13 L250.63 265.20 L250.75 265.27 L250.87 265.33 L250.99 265.40 L251.12 265.47 L251.24 265.54 L251.36 265.61 L251.48 265.67 L251.60 265.74 L251.72 265.81 L251.85 265.88 L251.97 265.95 L252.09 266.02 L252.21 266.09 L252.33 266.16 L252.46 266.23 L252.58 266.30 L252.70 266.37 L252.82 266.44 L252.94 266.51 L253.06 266.58 L253.19 266.65 L253.31 266.72 L253.43 266.80 L253.55 266.87 L253.67 266.94 L253.80 267.01 L253.92 267.08 L254.04 267.16 L254.16 267.23 L254.28 267.30 L254.40 267.38 L254.53 267.45 L254.65 267.52 L254.77 267.60 L254.89 267.67 L255.01 267.75 L255.14 267.82 L255.26 267.90 L255.38 267.97 L255.50 268.05 L255.62 268.12 L255.74 268.20 L255.87 268.27 L255.99 268.35 L256.11 268.42 L256.23 268.50 L256.35 268.58 L256.48 268.65 L256.60 268.73 L256.72 268.80 L256.84 268.88 L256.96 268.96 L257.08 269.04 L257.21 269.11 L257.33 269.19 L257.45 269.27 L257.57 269.35 L257.69 269.42 L257.82 269.50 L257.94 269.58 L258.06 269.66 L258.18 269.74 L258.30 269.82 L258.42 269.90 L258.55 269.98 L258.67 270.06 L258.79 270.13 L258.91 270.21 L259.03 270.29 L259.16 270.37 L259.28 270.45 L259.40 270.53 L259.52 270.61 L259.64 270.69 L259.76 270.78 L259.89 270.86 L260.01 270.94 L260.13 271.02 L260.25 271.10 L260.37 271.18 L260.50 271.26 L260.62 271.34 L260.74 271.43 L260.86 271.51 L260.98 271.59 L261.10 271.67 L261.23 271.75 L261.35 271.84 L261.47 271.92 L261.59 272.00 L261.71 272.08 L261.83 272.17 L261.96 272.25 L262.08 272.33 L262.20 272.42 L262.32 272.50 L262.44 272.58 L262.57 272.67 L262.69 272.75 L262.81 272.83 L262.93 272.92 L263.05 273.00 L263.17 273.09 L263.30 273.17 L263.42 273.26 L263.54 273.34 L263.66 273.42 L263.78 273.51 L263.91 273.59 L264.03 273.68 L264.15 273.76 L264.27 273.85 L264.39 273.93 L264.51 274.02 L264.64 274.11 L264.76 274.19 L264.88 274.28 L265.00 274.36 L265.12 274.45 L265.25 274.53 L265.37 274.62 L265.49 274.71 L265.61 274.79 L265.73 274.88 L265.85 274.97 L265.98 275.05 L266.10 275.14 L266.22 275.23 L266.34 275.31 L266.46 275.40 L266.59 275.49 L266.71 275.57 L266.83 275.66 L266.95 275.75 L267.07 275.84 L267.19 275.92 L267.32 276.01 L267.44 276.10 L267.56 276.19 L267.68 276.27 L267.80 276.36 L267.93 276.45 L268.05 276.54 L268.17 276.63 L268.29 276.72 L268.41 276.80 L268.53 276.89 L268.66 276.98 L268.78 277.07 L268.90 277.16 L269.02 277.25 L269.14 277.34 L269.27 277.42 L269.39 277.51 L269.51 277.60 L269.63 277.69 L269.75 277.78 L269.87 277.87 L270.00 277.96 L270.12 278.05 L270.24 278.13 L270.36 278.22 L270.48 278.31 L270.61 278.40 L270.73 278.49 L270.85 278.57 L270.97 278.66 L271.09 278.75 L271.21 278.84 L271.34 278.93 L271.46 279.02 L271.58 279.10 L271.70 279.19 L271.82 279.28 L271.95 279.37 L272.07 279.46 L272.19 279.55 L272.31 279.64 L272.43 279.73 L272.55 279.81 L272.68 279.90 L272.80 279.99 L272.92 280.08 L273.04 280.17 L273.16 280.26 L273.29 280.35 L273.41 280.44 L273.53 280.53 L273.65 280.62 L273.77 280.71 L273.89 280.80 L274.02 280.89 L274.14 280.98 L274.26 281.07 L274.38 281.15 L274.50 281.24 L274.63 281.33 L274.75 281.42 L274.87 281.51 L274.99 281.60 L275.11 281.69 L275.23 281.78 L275.36 281.87 L275.48 281.96 L275.60 282.05 L278.28 284.04 L280.95 286.04 L283.63 288.05 L286.31 290.06 L288.98 292.07 L291.66 294.08 L294.34 296.08 L297.02 298.07 L299.69 300.05 L302.37 302.01 L305.05 303.94 L307.72 305.85 L310.40 307.73 L313.08 309.61 L315.75 311.47 L318.43 313.33 L321.11 315.19 L323.78 317.05 L326.46 318.89 L329.14 320.72 L331.81 322.52 L334.49 324.29 L337.17 326.05 L339.85 327.78 L342.52 329.49 L345.20 331.17 L347.88 332.83 L350.55 334.47 L353.23 336.09 L355.91 337.68 L358.58 339.25 L361.26 340.79 L363.94 342.32 L366.61 343.82 L369.29 345.31 L371.97 346.78 L374.64 348.24 L377.32 349.67 L380.00 351.08 L382.68 352.48 L385.35 353.86 L388.03 355.22 L390.71 356.56 L393.38 357.89 L396.06 359.19 L398.74 360.48 L401.41 361.71 L404.09 362.88 L406.77 364.04 L409.44 365.18 L412.12 366.30 L414.80 367.40 L417.47 368.49 L420.15 369.55 L422.83 370.60 L425.51 371.64 L428.18 372.66 L430.86 373.66 L433.54 374.64 L436.21 375.61 L438.89 376.57 L441.57 377.51 L444.24 378.43 L446.92 379.34 L449.60 380.24 L452.27 381.12 L454.95 381.99 L457.63 382.85 L460.31 383.69 L462.98 384.52 L465.66 385.34 L468.34 386.14 L471.01 386.94 L473.69 387.72 L476.37 388.49 L479.04 389.25 L481.72 389.99 L484.40 390.73 L487.07 391.45 L489.75 392.17 L492.43 392.87 L495.10 393.56 L497.78 394.25 L500.46 394.92 L503.14 395.58 L505.81 396.24 L508.49 396.88 L511.17 397.52 L513.84 398.15 L516.52 398.76 L519.20 399.37 L521.87 399.97 L524.55 400.57 L527.23 401.15 L529.90 401.73 L532.58 402.29 L535.26 402.85 L537.93 403.41 L540.61 403.95 L543.29 404.49 L545.97 405.02 L548.64 405.54 L551.32 406.06 L554.00 406.57 L556.67 407.07 L559.35 407.57 L562.03 408.06 L564.70 408.54 L567.38 409.02 L570.06 409.49 L572.73 409.95 L575.41 410.41 L578.09 410.86 L580.76 411.31 L583.44 411.75 L586.12 412.18 L588.80 412.61 L591.47 413.04 L594.15 413.46 L596.83 413.87 L599.50 414.28 L602.18 414.68 L604.86 415.08 L607.53 415.47 L610.21 415.86 L612.89 416.25 L615.56 416.62 L618.24 417.00 L620.92 417.37 L623.59 417.73 L626.27 418.10 L628.95 418.45 L631.63 418.80 L634.30 419.15 L636.98 419.50 L639.66 419.84 L642.33 420.18 L645.01 420.53 L647.69 420.87 L650.36 421.20 L653.04 421.53 L655.72 421.86 L658.39 422.19 L661.07 422.51 L663.75 422.82 L666.43 423.14 L669.10 423.45 L671.78 423.75 L674.46 424.06 L677.13 424.36 L679.81 424.66 L682.49 424.95 L685.16 425.24 L687.84 425.53 L690.52 425.81 L693.19 426.09 L695.87 426.37 L698.55 426.65 L701.22 426.92 L703.90 427.19 L706.58 427.46 L709.26 427.72 L711.93 427.99 L714.61 428.24 L717.29 428.50 L719.96 428.75 L722.64 429.01 L725.32 429.25 L727.99 429.50 L730.67 429.74 L733.35 429.99 L736.02 430.23 L738.70 430.46 L741.38 430.70 L744.05 430.93 L746.73 431.16 L749.41 431.39 L752.09 431.61 L754.76 431.83 L757.44 432.05 L760.12 432.27 L762.79 432.49 L765.47 432.70 L768.15 432.92 L770.82 433.13 L773.50 433.34 L776.18 433.54 L778.85 433.75 L781.53 433.95 L784.21 434.15 L786.88 434.35 L789.56 434.55 L792.24 434.74 L794.92 434.94 L797.59 435.13 L800.27 435.32 L802.95 435.51 L805.62 435.69 L808.30 435.88" stroke="#ff0000" stroke-width="3.6" stroke-dasharray="11.0 3.27" stroke-dashoffset="9.53"/>
<path d="M144.80 492.54 L144.95 488.92 L145.10 485.32 L145.24 481.75 L145.39 478.21 L145.54 474.69 L145.69 471.20 L145.84 467.73 L145.99 464.29 L146.14 460.88 L146.28 457.49 L146.43 454.13 L146.58 450.80 L146.73 447.49 L146.88 444.21 L147.03 440.95 L147.17 437.72 L147.32 434.52 L147.47 431.35 L147.62 428.20 L147.77 425.08 L147.92 421.98 L148.07 418.91 L148.21 415.87 L148.36 412.85 L148.51 409.86 L148.66 406.90 L148.81 403.96 L148.96 401.05 L149.10 398.16 L149.25 395.30 L149.40 392.47 L149.55 389.66 L149.70 386.88 L149.85 384.12 L150.00 381.39 L150.14 378.68 L150.29 376.00 L150.44 373.34 L150.59 370.71 L150.74 368.10 L150.89 365.52 L151.03 362.96 L151.18 360.43 L151.33 357.92 L151.48 355.44 L151.63 352.98 L151.78 350.54 L151.93 348.13 L152.07 345.74 L152.22 343.37 L152.37 341.03 L152.52 338.71 L152.67 336.41 L152.82 334.14 L152.96 331.89 L153.11 329.66 L153.26 327.45 L153.41 325.27 L153.56 323.11 L153.71 320.96 L153.86 318.85 L154.00 316.75 L154.15 314.67 L154.30 312.62 L154.45 310.58 L154.60 308.57 L154.75 306.58 L154.89 304.61 L155.04 302.65 L155.19 300.72 L155.34 298.81 L155.49 296.92 L155.64 295.05 L155.79 293.20 L155.93 291.36 L156.08 289.55 L156.23 287.75 L156.38 285.98 L156.53 284.22 L156.68 282.48 L156.83 280.76 L156.97 279.06 L157.12 277.38 L157.27 275.71 L157.42 274.06 L157.57 272.43 L157.72 270.82 L157.86 269.22 L158.01 267.64 L158.16 266.08 L158.31 264.54 L158.46 263.01 L158.61 261.50 L158.76 260.00 L158.90 258.52 L159.05 257.06 L159.20 255.61 L159.35 254.18 L159.50 252.77 L159.65 251.37 L159.79 249.98 L159.94 248.61 L160.09 247.26 L160.24 245.92 L160.39 244.59 L160.54 243.28 L160.69 241.98 L160.83 240.70 L160.98 239.44 L161.13 238.18 L161.28 236.94 L161.43 235.72 L161.58 234.51 L161.72 233.31 L161.87 232.12 L162.02 230.95 L162.17 229.79 L162.32 228.65 L162.47 227.51 L162.62 226.39 L162.76 225.29 L162.91 224.19 L163.06 223.11 L163.21 222.04 L163.36 220.98 L163.51 219.93 L163.65 218.90 L163.80 217.88 L163.95 216.87 L164.10 215.87 L164.25 214.88 L164.40 213.90 L164.55 212.94 L164.69 211.98 L164.84 211.04 L164.99 210.11 L165.14 209.19 L165.29 208.28 L165.44 207.38 L165.58 206.49 L165.73 205.61 L165.88 204.74 L166.03 203.88 L166.18 203.03 L166.33 202.19 L166.48 201.37 L166.62 200.55 L166.77 199.74 L166.92 198.94 L167.07 198.15 L167.22 197.37 L167.37 196.59 L167.51 195.83 L167.66 195.08 L167.81 194.33 L167.96 193.60 L168.11 192.87 L168.26 192.15 L168.41 191.44 L168.55 190.74 L168.70 190.05 L168.85 189.37 L169.00 188.69 L169.15 188.03 L169.30 187.37 L169.44 186.72 L169.59 186.07 L169.74 185.44 L169.89 184.81 L170.04 184.19 L170.19 183.58 L170.34 182.97 L170.48 182.38 L170.63 181.79 L170.78 181.21 L170.93 180.63 L171.08 180.07 L171.23 179.51 L171.38 178.95 L171.52 178.41 L171.67 177.87 L171.82 177.34 L171.97 176.81 L172.12 176.29 L172.27 175.78 L172.41 175.28 L172.56 174.78 L172.71 174.28 L172.86 173.80 L173.01 173.32 L173.16 172.85 L173.31 172.38 L173.45 171.92 L173.60 171.46 L173.75 171.02 L173.90 170.57 L174.05 170.14 L174.20 169.71 L174.34 169.28 L174.49 168.86 L174.64 168.45 L174.79 168.04 L174.94 167.64 L175.09 167.24 L175.24 166.85 L175.38 166.47 L175.53 166.09 L175.68 165.71 L175.83 165.34 L175.98 164.98 L176.13 164.62 L176.27 164.27 L176.42 163.92 L176.57 163.58 L176.72 163.24 L176.87 162.90 L177.02 162.58 L177.17 162.25 L177.31 161.93 L177.46 161.62 L177.61 161.31 L177.76 161.00 L177.91 160.70 L178.06 160.41 L178.20 160.12 L178.35 159.83 L178.50 159.55 L178.65 159.27 L178.80 159.00 L178.95 158.73 L179.10 158.46 L179.24 158.20 L179.39 157.95 L179.54 157.69 L179.69 157.45 L179.84 157.20 L179.99 156.96 L180.13 156.73 L180.28 156.50 L180.43 156.27 L180.58 156.04 L180.73 155.82 L180.88 155.61 L181.03 155.40 L181.17 155.19 L181.32 154.98 L181.47 154.78 L181.62 154.58 L181.77 154.39 L181.92 154.20 L182.06 154.01 L182.21 153.83 L182.36 153.65 L182.51 153.47 L182.66 153.30 L182.81 153.13 L182.96 152.97 L183.10 152.80 L183.25 152.64 L183.40 152.49 L183.55 152.34 L183.70 152.19 L183.85 152.04 L183.99 151.90 L184.14 151.76 L184.29 151.62 L184.44 151.49 L184.59 151.36 L184.74 151.23 L184.89 151.10 L185.03 150.98 L185.18 150.86 L185.33 150.75 L185.48 150.64 L185.63 150.53 L185.78 150.42 L185.92 150.31 L186.07 150.21 L186.22 150.11 L186.37 150.02 L186.52 149.92 L186.67 149.83 L186.82 149.75 L186.96 149.66 L187.11 149.58 L187.26 149.50 L187.41 149.42 L187.56 149.35 L187.71 149.27 L187.86 149.21 L188.00 149.14 L188.15 149.07 L188.30 149.01 L188.45 148.95 L188.60 148.89 L188.75 148.84 L188.89 148.79 L189.04 148.74 L189.19 148.69 L189.34 148.64 L189.49 148.60 L189.64 148.56 L189.79 148.52 L189.93 148.48 L190.08 148.45 L190.23 148.42 L190.38 148.39 L190.53 148.36 L190.68 148.33 L190.82 148.31 L190.97 148.29 L191.12 148.27 L191.27 148.25 L191.42 148.24 L191.57 148.22 L191.72 148.21 L191.86 148.20 L192.01 148.20 L192.16 148.19 L192.31 148.19 L192.46 148.19 L192.61 148.19 L192.75 148.19 L192.90 148.19 L193.05 148.20 L193.20 148.21 L193.35 148.22 L193.50 148.23 L193.65 148.24 L193.79 148.26 L193.94 148.28 L194.09 148.30 L194.24 148.32 L194.39 148.34 L194.54 148.36 L194.68 148.39 L194.83 148.42 L194.98 148.45 L195.13 148.48 L195.28 148.51 L195.43 148.54 L195.58 148.58 L195.72 148.62 L195.87 148.66 L196.02 148.70 L196.17 148.74 L196.32 148.78 L196.47 148.83 L196.61 148.87 L196.76 148.92 L196.91 148.97 L197.06 149.02 L197.21 149.08 L197.36 149.13 L197.51 149.19 L197.65 149.24 L197.80 149.30 L197.95 149.36 L198.10 149.42 L198.25 149.49 L198.40 149.55 L198.54 149.62 L198.69 149.69 L198.84 149.75 L198.99 149.82 L199.14 149.89 L199.29 149.97 L199.44 150.05 L199.58 150.14 L199.73 150.23 L199.88 150.32 L200.03 150.41 L200.18 150.50 L200.33 150.59 L200.47 150.69 L200.62 150.78 L200.77 150.88 L200.92 150.98 L201.07 151.08 L201.22 151.18 L201.37 151.28 L201.51 151.39 L201.66 151.49 L201.81 151.60 L201.96 151.70 L202.11 151.81 L202.26 151.92 L202.40 152.03 L202.55 152.14 L202.70 152.25 L202.85 152.37 L203.00 152.48 L203.15 152.59 L203.30 152.71 L203.44 152.83 L203.59 152.95 L203.74 153.07 L203.89 153.19 L204.04 153.31 L204.19 153.43 L204.34 153.56 L204.48 153.68 L204.63 153.81 L204.78 153.93 L204.93 154.06 L205.08 154.19 L205.23 154.32 L205.37 154.45 L205.52 154.58 L205.67 154.71 L205.82 154.85 L205.97 154.98 L206.12 155.12 L206.27 155.25 L206.41 155.39 L206.56 155.53 L206.71 155.67 L206.86 155.81 L207.01 155.95 L207.16 156.09 L207.30 156.23 L207.45 156.37 L207.60 156.52 L207.75 156.66 L207.90 156.81 L208.05 156.95 L208.20 157.10 L208.34 157.25 L208.49 157.40 L208.64 157.55 L208.79 157.70 L208.94 157.85 L209.09 158.00 L209.23 158.15 L209.38 158.31 L209.53 158.46 L209.68 158.62 L209.83 158.77 L209.98 158.93 L210.13 159.09 L210.27 159.24 L210.42 159.40 L210.57 159.56 L210.72 159.72 L210.87 159.88 L211.02 160.04 L211.16 160.21 L211.31 160.37 L211.46 160.53 L211.61 160.70 L211.76 160.86 L211.91 161.03 L212.06 161.19 L212.20 161.36 L212.35 161.53 L212.50 161.70 L212.65 161.87 L212.80 162.04 L212.95 162.21 L213.09 162.38 L213.24 162.55 L213.39 162.73 L213.54 162.90 L213.69 163.08 L213.84 163.25 L213.99 163.43 L214.13 163.60 L214.28 163.78 L214.43 163.96 L214.58 164.14 L214.73 164.32 L214.88 164.50 L215.02 164.68 L215.17 164.86 L215.32 165.05 L215.47 165.23 L215.62 165.41 L215.77 165.60 L215.92 165.78 L216.06 165.97 L216.21 166.15 L216.36 166.34 L216.51 166.53 L216.66 166.71 L216.81 166.90 L216.95 167.09 L217.10 167.28 L217.25 167.47 L217.40 167.66 L217.55 167.85 L217.70 168.04 L217.85 168.24 L217.99 168.43 L218.14 168.62 L218.29 168.81 L218.44 169.01 L218.59 169.20 L218.74 169.40 L218.88 169.59 L219.03 169.79 L219.18 169.98 L219.33 170.18 L219.48 170.38 L219.63 170.57 L219.78 170.77 L219.92 170.97 L220.07 171.17 L220.22 171.37 L220.37 171.57 L220.52 171.76 L220.67 171.96 L220.82 172.16 L220.96 172.36 L221.11 172.57 L221.26 172.77 L221.41 172.97 L221.56 173.17 L221.71 173.37 L221.85 173.57 L222.00 173.78 L222.15 173.98 L222.30 174.18 L222.45 174.38 L222.60 174.59 L222.75 174.79 L222.89 174.99 L223.04 175.20 L223.19 175.40 L223.34 175.61 L223.49 175.81 L223.64 176.02 L223.78 176.22 L223.93 176.43 L224.08 176.63 L224.23 176.84 L224.38 177.04 L224.53 177.25 L224.68 177.45 L224.82 177.66 L224.97 177.87 L225.12 178.07 L225.27 178.28 L225.42 178.49 L225.57 178.69 L225.71 178.90 L225.86 179.11 L226.01 179.31 L226.16 179.52 L226.31 179.73 L226.46 179.93 L226.61 180.14 L226.75 180.35 L226.90 180.55 L227.05 180.76 L227.20 180.97 L227.35 181.17 L227.50 181.38 L227.64 181.59 L227.79 181.79 L227.94 182.00 L228.09 182.21 L228.24 182.42 L228.39 182.62 L228.54 182.83 L228.68 183.04 L228.83 183.24 L228.98 183.45 L229.13 183.66 L229.28 183.86 L229.43 184.07 L229.57 184.27 L229.72 184.48 L229.87 184.69 L230.02 184.89 L230.17 185.10 L230.32 185.30 L230.47 185.51 L230.61 185.71 L230.76 185.92 L230.91 186.12 L231.06 186.33 L231.21 186.53 L231.36 186.74 L231.50 186.94 L231.65 187.15 L231.80 187.35 L231.95 187.55 L232.10 187.76 L232.25 187.96 L232.40 188.17 L232.54 188.37 L232.69 188.57 L232.84 188.78 L232.99 188.98 L233.14 189.18 L233.29 189.39 L233.43 189.59 L233.58 189.80 L233.73 190.00 L233.88 190.21 L234.03 190.41 L234.18 190.62 L234.33 190.82 L234.47 191.03 L234.62 191.23 L234.77 191.44 L234.92 191.64 L235.07 191.85 L235.22 192.05 L235.36 192.26 L235.51 192.46 L235.66 192.67 L235.81 192.88 L235.96 193.08 L236.11 193.29 L236.26 193.49 L236.40 193.70 L236.55 193.91 L236.70 194.11 L236.85 194.32 L237.00 194.52 L237.15 194.73 L237.30 194.94 L237.44 195.14 L237.59 195.35 L237.74 195.56 L237.89 195.76 L238.04 195.97 L238.19 196.18 L238.33 196.38 L238.48 196.59 L238.63 196.80 L238.78 197.01 L238.93 197.21 L239.08 197.42 L239.23 197.63 L239.37 197.83 L239.52 198.04 L239.67 198.25 L239.82 198.46 L239.97 198.66 L240.12 198.87 L240.26 199.08 L240.41 199.28 L240.56 199.49 L240.71 199.70 L240.86 199.91 L241.01 200.11 L241.16 200.32 L241.30 200.53 L241.45 200.74 L241.60 200.94 L241.75 201.15 L241.90 201.36 L242.05 201.57 L242.19 201.77 L242.34 201.98 L242.49 202.19 L242.64 202.40 L242.79 202.60 L242.94 202.81 L243.09 203.02 L243.23 203.23 L243.38 203.44 L243.53 203.64 L243.68 203.85 L243.83 204.06 L243.98 204.27 L244.12 204.47 L244.27 204.68 L244.42 204.89 L244.57 205.10 L244.72 205.30 L244.87 205.51 L245.02 205.72 L245.16 205.93 L245.31 206.13 L245.46 206.34 L245.61 206.55 L245.76 206.76 L245.91 206.96 L246.05 207.17 L246.20 207.38 L246.35 207.59 L246.50 207.79 L246.65 208.00 L246.80 208.21 L246.95 208.42 L247.09 208.62 L247.24 208.83 L247.39 209.04 L247.54 209.24 L247.69 209.45 L247.84 209.66 L247.98 209.87 L248.13 210.07 L248.28 210.28 L248.43 210.49 L248.58 210.69 L248.73 210.90 L248.88 211.11 L249.02 211.32 L249.17 211.52 L249.32 211.73 L249.47 211.94 L249.62 212.14 L249.77 212.35 L249.91 212.56 L250.06 212.76 L250.21 212.97 L250.36 213.18 L250.51 213.38 L250.66 213.59 L250.81 213.79 L250.95 214.00 L251.10 214.21 L251.25 214.41 L251.40 214.62 L251.55 214.83 L251.70 215.03 L251.85 215.24 L251.99 215.44 L252.14 215.65 L252.29 215.85 L252.44 216.06 L252.59 216.27 L252.74 216.47 L252.88 216.68 L253.03 216.88 L253.18 217.09 L253.33 217.29 L253.48 217.50 L253.63 217.70 L253.78 217.91 L253.92 218.11 L254.07 218.32 L254.22 218.52 L254.37 218.73 L254.52 218.93 L254.67 219.14 L254.81 219.34 L254.96 219.55 L255.11 219.75 L255.26 219.95 L255.41 220.16 L255.56 220.36 L255.71 220.56 L255.85 220.77 L256.00 220.97 L256.15 221.17 L256.30 221.38 L256.45 221.58 L256.60 221.78 L256.74 221.98 L256.89 222.19 L257.04 222.39 L257.19 222.59 L257.34 222.79 L257.49 222.99 L257.64 223.20 L257.78 223.40 L257.93 223.60 L258.08 223.80 L258.23 224.00 L258.38 224.20 L258.53 224.40 L258.67 224.60 L258.82 224.80 L258.97 225.00 L259.12 225.20 L259.27 225.40 L259.42 225.60 L259.57 225.80 L259.71 226.00 L259.86 226.20 L260.01 226.40 L260.16 226.60 L260.31 226.80 L260.46 227.00 L260.60 227.20 L260.75 227.40 L260.90 227.60 L261.05 227.80 L261.20 227.99 L261.35 228.19 L261.50 228.39 L261.64 228.59 L261.79 228.79 L261.94 228.98 L262.09 229.18 L262.24 229.38 L262.39 229.58 L262.53 229.77 L262.68 229.97 L262.83 230.17 L262.98 230.37 L263.13 230.56 L263.28 230.76 L263.43 230.95 L263.57 231.15 L263.72 231.35 L263.87 231.54 L264.02 231.74 L264.17 231.93 L264.32 232.13 L264.46 232.33 L264.61 232.52 L264.76 232.72 L264.91 232.91 L265.06 233.11 L265.21 233.30 L265.36 233.50 L265.50 233.69 L265.65 233.89 L265.80 234.08 L265.95 234.27 L266.10 234.47 L266.25 234.66 L266.39 234.86 L266.54 235.05 L266.69 235.24 L266.84 235.44 L266.99 235.63 L267.14 235.82 L267.29 236.02 L267.43 236.21 L267.58 236.40 L267.73 236.59 L267.88 236.79 L268.03 236.98 L268.18 237.17 L268.33 237.36 L268.47 237.56 L268.62 237.75 L268.77 237.94 L268.92 238.13 L269.07 238.32 L269.22 238.51 L269.36 238.70 L269.51 238.90 L269.66 239.09 L269.81 239.28 L269.96 239.47 L270.11 239.66 L270.26 239.85 L270.40 240.04 L270.55 240.23 L270.70 240.42 L270.85 240.61 L271.00 240.80 L271.15 240.99 L271.29 241.18 L271.44 241.37 L271.59 241.56 L271.74 241.75 L271.89 241.94 L272.04 242.13 L272.19 242.31 L272.33 242.50 L272.48 242.69 L272.63 242.88 L272.78 243.07 L272.93 243.26 L273.08 243.45 L273.22 243.63 L273.37 243.82 L273.52 244.01 L273.67 244.20 L273.82 244.39 L273.97 244.57 L274.12 244.76 L274.26 244.95 L274.41 245.14 L274.56 245.32 L274.71 245.51 L274.86 245.70 L275.01 245.88 L275.15 246.07 L275.30 246.26 L275.45 246.44 L275.60 246.63 L278.28 249.96 L280.95 253.24 L283.63 256.46 L286.31 259.64 L288.98 262.77 L291.66 265.85 L294.34 268.90 L297.02 271.90 L299.69 274.87 L302.37 277.78 L305.05 280.64 L307.72 283.45 L310.40 286.21 L313.08 288.93 L315.75 291.59 L318.43 294.20 L321.11 296.77 L323.78 299.28 L326.46 301.75 L329.14 304.17 L331.81 306.55 L334.49 308.88 L337.17 311.16 L339.85 313.40 L342.52 315.60 L345.20 317.75 L347.88 319.86 L350.55 321.93 L353.23 323.96 L355.91 325.95 L358.58 327.90 L361.26 329.81 L363.94 331.69 L366.61 333.52 L369.29 335.33 L371.97 337.09 L374.64 338.82 L377.32 340.52 L380.00 342.18 L382.68 343.82 L385.35 345.42 L388.03 346.98 L390.71 348.52 L393.38 350.03 L396.06 351.51 L398.74 352.95 L401.41 354.37 L404.09 355.77 L406.77 357.13 L409.44 358.47 L412.12 359.79 L414.80 361.08 L417.47 362.35 L420.15 363.59 L422.83 364.81 L425.51 366.00 L428.18 367.17 L430.86 368.33 L433.54 369.46 L436.21 370.57 L438.89 371.66 L441.57 372.73 L444.24 373.78 L446.92 374.81 L449.60 375.82 L452.27 376.82 L454.95 377.79 L457.63 378.75 L460.31 379.70 L462.98 380.64 L465.66 381.56 L468.34 382.47 L471.01 383.36 L473.69 384.23 L476.37 385.09 L479.04 385.94 L481.72 386.77 L484.40 387.59 L487.07 388.40 L489.75 389.19 L492.43 389.97 L495.10 390.73 L497.78 391.49 L500.46 392.23 L503.14 392.96 L505.81 393.67 L508.49 394.38 L511.17 395.07 L513.84 395.76 L516.52 396.43 L519.20 397.09 L521.87 397.75 L524.55 398.39 L527.23 399.02 L529.90 399.64 L532.58 400.26 L535.26 400.86 L537.93 401.45 L540.61 402.04 L543.29 402.62 L545.97 403.18 L548.64 403.74 L551.32 404.29 L554.00 404.84 L556.67 405.37 L559.35 405.90 L562.03 406.42 L564.70 406.93 L567.38 407.44 L570.06 407.94 L572.73 408.43 L575.41 408.91 L578.09 409.39 L580.76 409.86 L583.44 410.32 L586.12 410.78 L588.80 411.23 L591.47 411.68 L594.15 412.11 L596.83 412.55 L599.50 412.97 L602.18 413.40 L604.86 413.81 L607.53 414.22 L610.21 414.63 L612.89 415.03 L615.56 415.42 L618.24 415.81 L620.92 416.19 L623.59 416.57 L626.27 416.95 L628.95 417.31 L631.63 417.68 L634.30 418.04 L636.98 418.39 L639.66 418.74 L642.33 419.10 L645.01 419.45 L647.69 419.80 L650.36 420.15 L653.04 420.49 L655.72 420.82 L658.39 421.16 L661.07 421.48 L663.75 421.81 L666.43 422.13 L669.10 422.45 L671.78 422.76 L674.46 423.07 L677.13 423.38 L679.81 423.68 L682.49 423.98 L685.16 424.28 L687.84 424.57 L690.52 424.86 L693.19 425.15 L695.87 425.43 L698.55 425.71 L701.22 425.99 L703.90 426.26 L706.58 426.53 L709.26 426.80 L711.93 427.06 L714.61 427.33 L717.29 427.59 L719.96 427.84 L722.64 428.10 L725.32 428.35 L727.99 428.60 L730.67 428.84 L733.35 429.09 L736.02 429.33 L738.70 429.57 L741.38 429.80 L744.05 430.04 L746.73 430.27 L749.41 430.50 L752.09 430.72 L754.76 430.95 L757.44 431.17 L760.12 431.39 L762.79 431.61 L765.47 431.82 L768.15 432.04 L770.82 432.25 L773.50 432.46 L776.18 432.67 L778.85 432.87 L781.53 433.08 L784.21 433.28 L786.88 433.48 L789.56 433.68 L792.24 433.87 L794.92 434.07 L797.59 434.26 L800.27 434.45 L802.95 434.64 L805.62 434.82 L808.30 435.01" stroke="#800080" stroke-width="3.6" stroke-linecap="square"/>
<path d="M167.41 493.80 L167.54 491.87 L167.66 489.95 L167.78 488.06 L167.91 486.18 L168.03 484.32 L168.16 482.48 L168.28 480.65 L168.40 478.84 L168.53 477.05 L168.65 475.28 L168.77 473.52 L168.90 471.77 L169.02 470.04 L169.14 468.33 L169.27 466.63 L169.39 464.95 L169.51 463.28 L169.64 461.63 L169.76 459.99 L169.88 458.37 L170.01 456.76 L170.13 455.17 L170.25 453.58 L170.38 452.02 L170.50 450.46 L170.62 448.92 L170.75 447.40 L170.87 445.88 L170.99 444.38 L171.12 442.90 L171.24 441.42 L171.36 439.96 L171.49 438.51 L171.61 437.07 L171.73 435.64 L171.86 434.23 L171.98 432.83 L172.10 431.44 L172.23 430.06 L172.35 428.69 L172.47 427.34 L172.60 425.99 L172.72 424.66 L172.84 423.34 L172.97 422.03 L173.09 420.72 L173.21 419.43 L173.34 418.15 L173.46 416.89 L173.58 415.63 L173.71 414.38 L173.83 413.14 L173.95 411.91 L174.08 410.69 L174.20 409.48 L174.32 408.28 L174.45 407.09 L174.57 405.91 L174.69 404.74 L174.82 403.57 L174.94 402.42 L175.06 401.28 L175.19 400.14 L175.31 399.01 L175.43 397.90 L175.56 396.79 L175.68 395.69 L175.80 394.60 L175.93 393.51 L176.05 392.44 L176.17 391.37 L176.30 390.31 L176.42 389.26 L176.54 388.22 L176.67 387.18 L176.79 386.15 L176.91 385.13 L177.04 384.12 L177.16 383.12 L177.28 382.12 L177.41 381.13 L177.53 380.15 L177.65 379.18 L177.78 378.21 L177.90 377.25 L178.02 376.30 L178.15 375.35 L178.27 374.41 L178.39 373.48 L178.52 372.56 L178.64 371.64 L178.76 370.73 L178.89 369.82 L179.01 368.92 L179.13 368.03 L179.26 367.14 L179.38 366.27 L179.50 365.39 L179.63 364.53 L179.75 363.67 L179.87 362.81 L180.00 361.97 L180.12 361.12 L180.24 360.29 L180.37 359.46 L180.49 358.64 L180.61 357.82 L180.74 357.01 L180.86 356.20 L180.98 355.40 L181.11 354.60 L181.23 353.82 L181.35 353.03 L181.48 352.25 L181.60 351.48 L181.72 350.71 L181.85 349.95 L181.97 349.20 L182.09 348.45 L182.22 347.70 L182.34 346.96 L182.46 346.22 L182.59 345.49 L182.71 344.77 L182.83 344.05 L182.96 343.33 L183.08 342.62 L183.20 341.92 L183.33 341.22 L183.45 340.52 L183.57 339.83 L183.70 339.15 L183.82 338.46 L183.94 337.79 L184.07 337.12 L184.19 336.45 L184.31 335.79 L184.44 335.13 L184.56 334.47 L184.69 333.83 L184.81 333.18 L184.93 332.54 L185.06 331.91 L185.18 331.27 L185.30 330.65 L185.43 330.02 L185.55 329.41 L185.67 328.79 L185.80 328.18 L185.92 327.57 L186.04 326.97 L186.17 326.38 L186.29 325.78 L186.41 325.19 L186.54 324.61 L186.66 324.02 L186.78 323.45 L186.91 322.87 L187.03 322.30 L187.15 321.74 L187.28 321.18 L187.40 320.62 L187.52 320.06 L187.65 319.51 L187.77 318.96 L187.89 318.42 L188.02 317.88 L188.14 317.35 L188.26 316.81 L188.39 316.28 L188.51 315.76 L188.63 315.24 L188.76 314.72 L188.88 314.21 L189.00 313.69 L189.13 313.19 L189.25 312.68 L189.37 312.18 L189.50 311.68 L189.62 311.19 L189.74 310.70 L189.87 310.21 L189.99 309.73 L190.11 309.25 L190.24 308.77 L190.36 308.30 L190.48 307.83 L190.61 307.36 L190.73 306.89 L190.85 306.43 L190.98 305.97 L191.10 305.52 L191.22 305.07 L191.35 304.62 L191.47 304.17 L191.59 303.73 L191.72 303.29 L191.84 302.85 L191.96 302.42 L192.09 301.99 L192.21 301.56 L192.33 301.13 L192.46 300.71 L192.58 300.29 L192.70 299.88 L192.83 299.46 L192.95 299.05 L193.07 298.64 L193.20 298.24 L193.32 297.84 L193.44 297.44 L193.57 297.04 L193.69 296.65 L193.81 296.25 L193.94 295.87 L194.06 295.48 L194.18 295.10 L194.31 294.72 L194.43 294.34 L194.55 293.96 L194.68 293.59 L194.80 293.22 L194.92 292.85 L195.05 292.49 L195.17 292.13 L195.29 291.77 L195.42 291.41 L195.54 291.05 L195.66 290.70 L195.79 290.35 L195.91 290.00 L196.03 289.66 L196.16 289.32 L196.28 288.98 L196.40 288.64 L196.53 288.30 L196.65 287.97 L196.77 287.64 L196.90 287.31 L197.02 286.99 L197.14 286.66 L197.27 286.34 L197.39 286.02 L197.51 285.71 L197.64 285.39 L197.76 285.08 L197.88 284.77 L198.01 284.46 L198.13 284.16 L198.25 283.85 L198.38 283.55 L198.50 283.25 L198.62 282.96 L198.75 282.66 L198.87 282.37 L198.99 282.08 L199.12 281.79 L199.24 281.51 L199.36 281.22 L199.49 280.94 L199.61 280.66 L199.73 280.38 L199.86 280.11 L199.98 279.83 L200.10 279.56 L200.23 279.29 L200.35 279.03 L200.47 278.76 L200.60 278.50 L200.72 278.24 L200.84 277.98 L200.97 277.72 L201.09 277.46 L201.22 277.21 L201.34 276.96 L201.46 276.71 L201.59 276.46 L201.71 276.21 L201.83 275.97 L201.96 275.73 L202.08 275.49 L202.20 275.25 L202.33 275.01 L202.45 274.78 L202.57 274.55 L202.70 274.31 L202.82 274.09 L202.94 273.86 L203.07 273.63 L203.19 273.41 L203.31 273.19 L203.44 272.97 L203.56 272.75 L203.68 272.53 L203.81 272.31 L203.93 272.10 L204.05 271.89 L204.18 271.68 L204.30 271.47 L204.42 271.26 L204.55 271.06 L204.67 270.86 L204.79 270.65 L204.92 270.46 L205.04 270.26 L205.16 270.06 L205.29 269.87 L205.41 269.67 L205.53 269.48 L205.66 269.29 L205.78 269.10 L205.90 268.91 L206.03 268.73 L206.15 268.55 L206.27 268.36 L206.40 268.18 L206.52 268.00 L206.64 267.83 L206.77 267.65 L206.89 267.47 L207.01 267.30 L207.14 267.13 L207.26 266.96 L207.38 266.79 L207.51 266.62 L207.63 266.46 L207.75 266.30 L207.88 266.13 L208.00 265.97 L208.12 265.81 L208.25 265.65 L208.37 265.50 L208.49 265.34 L208.62 265.19 L208.74 265.03 L208.86 264.88 L208.99 264.73 L209.11 264.59 L209.23 264.44 L209.36 264.29 L209.48 264.15 L209.60 264.01 L209.73 263.86 L209.85 263.72 L209.97 263.59 L210.10 263.45 L210.22 263.31 L210.34 263.18 L210.47 263.04 L210.59 262.91 L210.71 262.78 L210.84 262.65 L210.96 262.52 L211.08 262.40 L211.21 262.27 L211.33 262.15 L211.45 262.02 L211.58 261.90 L211.70 261.78 L211.82 261.66 L211.95 261.54 L212.07 261.42 L212.19 261.31 L212.32 261.19 L212.44 261.08 L212.56 260.97 L212.69 260.86 L212.81 260.75 L212.93 260.64 L213.06 260.53 L213.18 260.43 L213.30 260.32 L213.43 260.22 L213.55 260.12 L213.67 260.01 L213.80 259.91 L213.92 259.81 L214.04 259.72 L214.17 259.62 L214.29 259.52 L214.41 259.43 L214.54 259.34 L214.66 259.24 L214.78 259.15 L214.91 259.06 L215.03 258.97 L215.15 258.88 L215.28 258.80 L215.40 258.71 L215.52 258.63 L215.65 258.54 L215.77 258.46 L215.89 258.38 L216.02 258.30 L216.14 258.22 L216.26 258.14 L216.39 258.06 L216.51 257.99 L216.63 257.91 L216.76 257.84 L216.88 257.76 L217.00 257.69 L217.13 257.62 L217.25 257.55 L217.37 257.48 L217.50 257.41 L217.62 257.34 L217.75 257.28 L217.87 257.21 L217.99 257.15 L218.12 257.08 L218.24 257.02 L218.36 256.96 L218.49 256.90 L218.61 256.84 L218.73 256.78 L218.86 256.72 L218.98 256.67 L219.10 256.61 L219.23 256.55 L219.35 256.50 L219.47 256.45 L219.60 256.40 L219.72 256.34 L219.84 256.29 L219.97 256.24 L220.09 256.19 L220.21 256.15 L220.34 256.10 L220.46 256.05 L220.58 256.01 L220.71 255.96 L220.83 255.92 L220.95 255.88 L221.08 255.84 L221.20 255.80 L221.32 255.76 L221.45 255.72 L221.57 255.68 L221.69 255.64 L221.82 255.60 L221.94 255.57 L222.06 255.53 L222.19 255.50 L222.31 255.46 L222.43 255.43 L222.56 255.40 L222.68 255.37 L222.80 255.34 L222.93 255.31 L223.05 255.28 L223.17 255.25 L223.30 255.23 L223.42 255.20 L223.54 255.17 L223.67 255.15 L223.79 255.13 L223.91 255.10 L224.04 255.08 L224.16 255.06 L224.28 255.04 L224.41 255.02 L224.53 255.00 L224.65 254.98 L224.78 254.96 L224.90 254.94 L225.02 254.93 L225.15 254.91 L225.27 254.89 L225.39 254.88 L225.52 254.87 L225.64 254.85 L225.76 254.84 L225.89 254.83 L226.01 254.82 L226.13 254.81 L226.26 254.80 L226.38 254.79 L226.50 254.78 L226.63 254.77 L226.75 254.77 L226.87 254.76 L227.00 254.76 L227.12 254.75 L227.24 254.75 L227.37 254.74 L227.49 254.74 L227.61 254.74 L227.74 254.74 L227.86 254.74 L227.98 254.74 L228.11 254.74 L228.23 254.74 L228.35 254.74 L228.48 254.74 L228.60 254.74 L228.72 254.75 L228.85 254.75 L228.97 254.76 L229.09 254.76 L229.22 254.77 L229.34 254.77 L229.46 254.78 L229.59 254.79 L229.71 254.80 L229.83 254.81 L229.96 254.81 L230.08 254.82 L230.20 254.84 L230.33 254.85 L230.45 254.86 L230.57 254.87 L230.70 254.88 L230.82 254.90 L230.94 254.91 L231.07 254.93 L231.19 254.94 L231.31 254.96 L231.44 254.97 L231.56 254.99 L231.68 255.01 L231.81 255.03 L231.93 255.04 L232.05 255.06 L232.18 255.08 L232.30 255.10 L232.42 255.12 L232.55 255.14 L232.67 255.17 L232.79 255.19 L232.92 255.21 L233.04 255.23 L233.16 255.26 L233.29 255.28 L233.41 255.31 L233.53 255.33 L233.66 255.36 L233.78 255.38 L233.90 255.41 L234.03 255.44 L234.15 255.47 L234.28 255.49 L234.40 255.52 L234.52 255.55 L234.65 255.58 L234.77 255.61 L234.89 255.64 L235.02 255.67 L235.14 255.71 L235.26 255.74 L235.39 255.77 L235.51 255.80 L235.63 255.84 L235.76 255.87 L235.88 255.90 L236.00 255.94 L236.13 255.97 L236.25 256.01 L236.37 256.05 L236.50 256.08 L236.62 256.12 L236.74 256.16 L236.87 256.20 L236.99 256.23 L237.11 256.27 L237.24 256.31 L237.36 256.35 L237.48 256.39 L237.61 256.43 L237.73 256.47 L237.85 256.51 L237.98 256.56 L238.10 256.60 L238.22 256.64 L238.35 256.68 L238.47 256.73 L238.59 256.77 L238.72 256.81 L238.84 256.86 L238.96 256.90 L239.09 256.95 L239.21 256.99 L239.33 257.04 L239.46 257.09 L239.58 257.13 L239.70 257.18 L239.83 257.23 L239.95 257.28 L240.07 257.32 L240.20 257.37 L240.32 257.42 L240.44 257.47 L240.57 257.52 L240.69 257.57 L240.81 257.62 L240.94 257.67 L241.06 257.72 L241.18 257.78 L241.31 257.83 L241.43 257.88 L241.55 257.93 L241.68 257.99 L241.80 258.04 L241.92 258.09 L242.05 258.15 L242.17 258.20 L242.29 258.26 L242.42 258.31 L242.54 258.37 L242.66 258.42 L242.79 258.48 L242.91 258.53 L243.03 258.59 L243.16 258.65 L243.28 258.71 L243.40 258.76 L243.53 258.82 L243.65 258.88 L243.77 258.94 L243.90 259.00 L244.02 259.06 L244.14 259.12 L244.27 259.18 L244.39 259.24 L244.51 259.30 L244.64 259.36 L244.76 259.42 L244.88 259.48 L245.01 259.54 L245.13 259.60 L245.25 259.67 L245.38 259.73 L245.50 259.79 L245.62 259.85 L245.75 259.92 L245.87 259.98 L245.99 260.05 L246.12 260.11 L246.24 260.17 L246.36 260.24 L246.49 260.30 L246.61 260.37 L246.73 260.43 L246.86 260.50 L246.98 260.57 L247.10 260.63 L247.23 260.70 L247.35 260.77 L247.47 260.83 L247.60 260.90 L247.72 260.97 L247.84 261.04 L247.97 261.11 L248.09 261.17 L248.21 261.24 L248.34 261.31 L248.46 261.38 L248.58 261.45 L248.71 261.52 L248.83 261.59 L248.95 261.66 L249.08 261.73 L249.20 261.80 L249.32 261.87 L249.45 261.94 L249.57 262.02 L249.69 262.09 L249.82 262.16 L249.94 262.23 L250.06 262.30 L250.19 262.38 L250.31 262.45 L250.43 262.53 L250.56 262.61 L250.68 262.68 L250.81 262.76 L250.93 262.83 L251.05 262.91 L251.18 262.99 L251.30 263.06 L251.42 263.14 L251.55 263.22 L251.67 263.30 L251.79 263.37 L251.92 263.45 L252.04 263.53 L252.16 263.61 L252.29 263.69 L252.41 263.76 L252.53 263.84 L252.66 263.92 L252.78 264.00 L252.90 264.08 L253.03 264.16 L253.15 264.24 L253.27 264.32 L253.40 264.40 L253.52 264.48 L253.64 264.56 L253.77 264.64 L253.89 264.72 L254.01 264.81 L254.14 264.89 L254.26 264.97 L254.38 265.05 L254.51 265.13 L254.63 265.21 L254.75 265.30 L254.88 265.38 L255.00 265.46 L255.12 265.54 L255.25 265.63 L255.37 265.71 L255.49 265.79 L255.62 265.88 L255.74 265.96 L255.86 266.04 L255.99 266.13 L256.11 266.21 L256.23 266.30 L256.36 266.38 L256.48 266.47 L256.60 266.55 L256.73 266.64 L256.85 266.72 L256.97 266.81 L257.10 266.89 L257.22 266.98 L257.34 267.06 L257.47 267.15 L257.59 267.23 L257.71 267.32 L257.84 267.41 L257.96 267.49 L258.08 267.58 L258.21 267.67 L258.33 267.75 L258.45 267.84 L258.58 267.93 L258.70 268.01 L258.82 268.10 L258.95 268.19 L259.07 268.28 L259.19 268.36 L259.32 268.45 L259.44 268.54 L259.56 268.63 L259.69 268.72 L259.81 268.81 L259.93 268.89 L260.06 268.98 L260.18 269.07 L260.30 269.16 L260.43 269.25 L260.55 269.34 L260.67 269.43 L260.80 269.52 L260.92 269.61 L261.04 269.70 L261.17 269.79 L261.29 269.88 L261.41 269.97 L261.54 270.06 L261.66 270.15 L261.78 270.24 L261.91 270.33 L262.03 270.42 L262.15 270.51 L262.28 270.60 L262.40 270.69 L262.52 270.78 L262.65 270.87 L262.77 270.97 L262.89 271.06 L263.02 271.15 L263.14 271.24 L263.26 271.33 L263.39 271.42 L263.51 271.52 L263.63 271.61 L263.76 271.70 L263.88 271.79 L264.00 271.88 L264.13 271.98 L264.25 272.07 L264.37 272.16 L264.50 272.25 L264.62 272.35 L264.74 272.44 L264.87 272.53 L264.99 272.63 L265.11 272.72 L265.24 272.81 L265.36 272.91 L265.48 273.00 L265.61 273.09 L265.73 273.19 L265.85 273.28 L265.98 273.37 L266.10 273.47 L266.22 273.56 L266.35 273.66 L266.47 273.75 L266.59 273.84 L266.72 273.94 L266.84 274.03 L266.96 274.13 L267.09 274.22 L267.21 274.32 L267.34 274.41 L267.46 274.51 L267.58 274.60 L267.71 274.70 L267.83 274.79 L267.95 274.89 L268.08 274.98 L268.20 275.08 L268.32 275.17 L268.45 275.27 L268.57 275.36 L268.69 275.46 L268.82 275.55 L268.94 275.65 L269.06 275.74 L269.19 275.84 L269.31 275.93 L269.43 276.03 L269.56 276.13 L269.68 276.22 L269.80 276.32 L269.93 276.41 L270.05 276.51 L270.17 276.61 L270.30 276.70 L270.42 276.80 L270.54 276.90 L270.67 276.99 L270.79 277.09 L270.91 277.18 L271.04 277.28 L271.16 277.38 L271.28 277.47 L271.41 277.57 L271.53 277.67 L271.65 277.76 L271.78 277.86 L271.90 277.96 L272.02 278.06 L272.15 278.15 L272.27 278.25 L272.39 278.35 L272.52 278.44 L272.64 278.54 L272.76 278.64 L272.89 278.74 L273.01 278.83 L273.13 278.93 L273.26 279.03 L273.38 279.13 L273.50 279.22 L273.63 279.32 L273.75 279.42 L273.87 279.52 L274.00 279.61 L274.12 279.71 L274.24 279.81 L274.37 279.91 L274.49 280.00 L274.61 280.10 L274.74 280.20 L274.86 280.30 L274.98 280.40 L275.11 280.49 L275.23 280.59 L275.35 280.69 L275.48 280.79 L275.60 280.89 L278.28 283.02 L280.95 285.17 L283.63 287.32 L286.31 289.48 L288.98 291.63 L291.66 293.79 L294.34 295.93 L297.02 298.06 L299.69 300.18 L302.37 302.28 L305.05 304.36 L307.72 306.41 L310.40 308.44 L313.08 310.45 L315.75 312.43 L318.43 314.37 L321.11 316.29 L323.78 318.18 L326.46 320.05 L329.14 321.89 L331.81 323.71 L334.49 325.50 L337.17 327.26 L339.85 329.00 L342.52 330.72 L345.20 332.41 L347.88 334.07 L350.55 335.71 L353.23 337.32 L355.91 338.91 L358.58 340.47 L361.26 342.01 L363.94 343.52 L366.61 345.01 L369.29 346.48 L371.97 347.92 L374.64 349.33 L377.32 350.71 L380.00 352.07 L382.68 353.40 L385.35 354.70 L388.03 355.98 L390.71 357.24 L393.38 358.47 L396.06 359.68 L398.74 360.87 L401.41 362.04 L404.09 363.19 L406.77 364.32 L409.44 365.43 L412.12 366.53 L414.80 367.61 L417.47 368.67 L420.15 369.72 L422.83 370.75 L425.51 371.77 L428.18 372.77 L430.86 373.75 L433.54 374.72 L436.21 375.67 L438.89 376.61 L441.57 377.53 L444.24 378.44 L446.92 379.34 L449.60 380.22 L452.27 381.08 L454.95 381.93 L457.63 382.77 L460.31 383.60 L462.98 384.41 L465.66 385.21 L468.34 386.00 L471.01 386.78 L473.69 387.54 L476.37 388.30 L479.04 389.04 L481.72 389.78 L484.40 390.52 L487.07 391.25 L489.75 391.97 L492.43 392.67 L495.10 393.37 L497.78 394.06 L500.46 394.73 L503.14 395.40 L505.81 396.06 L508.49 396.71 L511.17 397.34 L513.84 397.97 L516.52 398.60 L519.20 399.21 L521.87 399.81 L524.55 400.41 L527.23 400.99 L529.90 401.57 L532.58 402.14 L535.26 402.70 L537.93 403.26 L540.61 403.81 L543.29 404.35 L545.97 404.88 L548.64 405.40 L551.32 405.92 L554.00 406.43 L556.67 406.94 L559.35 407.44 L562.03 407.93 L564.70 408.41 L567.38 408.89 L570.06 409.36 L572.73 409.83 L575.41 410.29 L578.09 410.74 L580.76 411.19 L583.44 411.63 L586.12 412.07 L588.80 412.50 L591.47 412.93 L594.15 413.35 L596.83 413.76 L599.50 414.17 L602.18 414.58 L604.86 414.98 L607.53 415.37 L610.21 415.76 L612.89 416.15 L615.56 416.53 L618.24 416.90 L620.92 417.27 L623.59 417.64 L626.27 418.00 L628.95 418.36 L631.63 418.71 L634.30 419.06 L636.98 419.41 L639.66 419.75 L642.33 420.10 L645.01 420.44 L647.69 420.78 L650.36 421.12 L653.04 421.45 L655.72 421.78 L658.39 422.11 L661.07 422.43 L663.75 422.75 L666.43 423.06 L669.10 423.37 L671.78 423.68 L674.46 423.98 L677.13 424.29 L679.81 424.58 L682.49 424.88 L685.16 425.17 L687.84 425.46 L690.52 425.74 L693.19 426.03 L695.87 426.31 L698.55 426.58 L701.22 426.86 L703.90 427.13 L706.58 427.39 L709.26 427.66 L711.93 427.92 L714.61 428.18 L717.29 428.44 L719.96 428.69 L722.64 428.95 L725.32 429.20 L727.99 429.44 L730.67 429.69 L733.35 429.93 L736.02 430.17 L738.70 430.41 L741.38 430.64 L744.05 430.87 L746.73 431.10 L749.41 431.33 L752.09 431.56 L754.76 431.78 L757.44 432.00 L760.12 432.22 L762.79 432.44 L765.47 432.65 L768.15 432.87 L770.82 433.08 L773.50 433.29 L776.18 433.50 L778.85 433.70 L781.53 433.90 L784.21 434.11 L786.88 434.31 L789.56 434.50 L792.24 434.70 L794.92 434.89 L797.59 435.09 L800.27 435.28 L802.95 435.46 L805.62 435.65 L808.30 435.84" stroke="#800080" stroke-width="1.4" stroke-dasharray="8.4 5.87" stroke-dashoffset="0.42"/>
<path d="M139.10 493.69 L139.25 490.65 L139.41 487.59 L139.56 484.53 L139.72 481.45 L139.87 478.36 L140.02 475.27 L140.18 472.18 L140.33 469.08 L140.49 465.97 L140.64 462.87 L140.80 459.76 L140.95 456.66 L141.10 453.56 L141.26 450.46 L141.41 447.36 L141.57 444.27 L141.72 441.18 L141.88 438.10 L142.03 435.03 L142.18 431.96 L142.34 428.91 L142.49 425.86 L142.65 422.82 L142.80 419.79 L142.96 416.78 L143.11 413.77 L143.26 410.78 L143.42 407.80 L143.57 404.84 L143.73 401.89 L143.88 398.95 L144.03 396.03 L144.19 393.12 L144.34 390.23 L144.50 387.35 L144.65 384.49 L144.81 381.64 L144.96 378.82 L145.11 376.01 L145.27 373.22 L145.42 370.44 L145.58 367.68 L145.73 364.95 L145.89 362.23 L146.04 359.52 L146.19 356.84 L146.35 354.18 L146.50 351.53 L146.66 348.91 L146.81 346.30 L146.97 343.71 L147.12 341.14 L147.27 338.60 L147.43 336.07 L147.58 333.56 L147.74 331.07 L147.89 328.60 L148.04 326.15 L148.20 323.73 L148.35 321.32 L148.51 318.93 L148.66 316.56 L148.82 314.21 L148.97 311.88 L149.12 309.58 L149.28 307.29 L149.43 305.02 L149.59 302.77 L149.74 300.54 L149.90 298.34 L150.05 296.15 L150.20 293.98 L150.36 291.83 L150.51 289.71 L150.67 287.60 L150.82 285.51 L150.98 283.44 L151.13 281.39 L151.28 279.36 L151.44 277.35 L151.59 275.36 L151.75 273.38 L151.90 271.43 L152.06 269.50 L152.21 267.58 L152.36 265.69 L152.52 263.81 L152.67 261.95 L152.83 260.11 L152.98 258.29 L153.13 256.49 L153.29 254.70 L153.44 252.94 L153.60 251.19 L153.75 249.46 L153.91 247.74 L154.06 246.05 L154.21 244.37 L154.37 242.71 L154.52 241.07 L154.68 239.44 L154.83 237.84 L154.99 236.25 L155.14 234.67 L155.29 233.11 L155.45 231.57 L155.60 230.05 L155.76 228.54 L155.91 227.05 L156.07 225.58 L156.22 224.12 L156.37 222.67 L156.53 221.25 L156.68 219.84 L156.84 218.44 L156.99 217.06 L157.14 215.69 L157.30 214.34 L157.45 213.01 L157.61 211.69 L157.76 210.38 L157.92 209.09 L158.07 207.82 L158.22 206.56 L158.38 205.31 L158.53 204.08 L158.69 202.86 L158.84 201.66 L159.00 200.46 L159.15 199.29 L159.30 198.12 L159.46 196.98 L159.61 195.84 L159.77 194.72 L159.92 193.61 L160.08 192.51 L160.23 191.43 L160.38 190.35 L160.54 189.30 L160.69 188.25 L160.85 187.22 L161.00 186.20 L161.16 185.19 L161.31 184.19 L161.46 183.21 L161.62 182.23 L161.77 181.27 L161.93 180.32 L162.08 179.39 L162.23 178.46 L162.39 177.55 L162.54 176.64 L162.70 175.75 L162.85 174.87 L163.01 174.00 L163.16 173.14 L163.31 172.29 L163.47 171.45 L163.62 170.63 L163.78 169.81 L163.93 169.00 L164.09 168.21 L164.24 167.42 L164.39 166.64 L164.55 165.88 L164.70 165.12 L164.86 164.38 L165.01 163.64 L165.17 162.91 L165.32 162.19 L165.47 161.49 L165.63 160.79 L165.78 160.10 L165.94 159.42 L166.09 158.75 L166.25 158.08 L166.40 157.43 L166.55 156.78 L166.71 156.15 L166.86 155.52 L167.02 154.90 L167.17 154.29 L167.32 153.69 L167.48 153.09 L167.63 152.51 L167.79 151.93 L167.94 151.36 L168.10 150.80 L168.25 150.25 L168.40 149.70 L168.56 149.16 L168.71 148.63 L168.87 148.11 L169.02 147.59 L169.18 147.09 L169.33 146.59 L169.48 146.09 L169.64 145.61 L169.79 145.13 L169.95 144.66 L170.10 144.19 L170.26 143.73 L170.41 143.28 L170.56 142.84 L170.72 142.40 L170.87 141.97 L171.03 141.55 L171.18 141.13 L171.33 140.72 L171.49 140.31 L171.64 139.91 L171.80 139.52 L171.95 139.14 L172.11 138.76 L172.26 138.38 L172.41 138.02 L172.57 137.66 L172.72 137.30 L172.88 136.95 L173.03 136.61 L173.19 136.27 L173.34 135.94 L173.49 135.61 L173.65 135.29 L173.80 134.97 L173.96 134.66 L174.11 134.36 L174.27 134.06 L174.42 133.77 L174.57 133.48 L174.73 133.19 L174.88 132.92 L175.04 132.64 L175.19 132.38 L175.35 132.11 L175.50 131.85 L175.65 131.60 L175.81 131.35 L175.96 131.11 L176.12 130.87 L176.27 130.64 L176.42 130.41 L176.58 130.18 L176.73 129.96 L176.89 129.75 L177.04 129.54 L177.20 129.33 L177.35 129.13 L177.50 128.93 L177.66 128.74 L177.81 128.55 L177.97 128.37 L178.12 128.19 L178.28 128.01 L178.43 127.84 L178.58 127.67 L178.74 127.51 L178.89 127.35 L179.05 127.19 L179.20 127.04 L179.36 126.89 L179.51 126.75 L179.66 126.61 L179.82 126.47 L179.97 126.34 L180.13 126.21 L180.28 126.09 L180.43 125.96 L180.59 125.85 L180.74 125.73 L180.90 125.62 L181.05 125.51 L181.21 125.41 L181.36 125.31 L181.51 125.21 L181.67 125.12 L181.82 125.03 L181.98 124.94 L182.13 124.86 L182.29 124.78 L182.44 124.70 L182.59 124.63 L182.75 124.56 L182.90 124.49 L183.06 124.42 L183.21 124.36 L183.37 124.31 L183.52 124.25 L183.67 124.20 L183.83 124.15 L183.98 124.10 L184.14 124.06 L184.29 124.02 L184.45 123.98 L184.60 123.95 L184.75 123.91 L184.91 123.88 L185.06 123.86 L185.22 123.83 L185.37 123.81 L185.52 123.79 L185.68 123.78 L185.83 123.77 L185.99 123.75 L186.14 123.75 L186.30 123.74 L186.45 123.74 L186.60 123.74 L186.76 123.74 L186.91 123.74 L187.07 123.75 L187.22 123.76 L187.38 123.77 L187.53 123.79 L187.68 123.80 L187.84 123.82 L187.99 123.84 L188.15 123.87 L188.30 123.89 L188.46 123.92 L188.61 123.95 L188.76 123.98 L188.92 124.02 L189.07 124.05 L189.23 124.09 L189.38 124.13 L189.53 124.18 L189.69 124.22 L189.84 124.27 L190.00 124.32 L190.15 124.37 L190.31 124.42 L190.46 124.48 L190.61 124.54 L190.77 124.60 L190.92 124.66 L191.08 124.72 L191.23 124.78 L191.39 124.85 L191.54 124.92 L191.69 124.99 L191.85 125.08 L192.00 125.16 L192.16 125.25 L192.31 125.35 L192.47 125.44 L192.62 125.53 L192.77 125.63 L192.93 125.73 L193.08 125.83 L193.24 125.93 L193.39 126.03 L193.55 126.14 L193.70 126.24 L193.85 126.35 L194.01 126.46 L194.16 126.57 L194.32 126.69 L194.47 126.80 L194.62 126.92 L194.78 127.03 L194.93 127.15 L195.09 127.27 L195.24 127.40 L195.40 127.52 L195.55 127.65 L195.70 127.77 L195.86 127.90 L196.01 128.03 L196.17 128.16 L196.32 128.29 L196.48 128.43 L196.63 128.56 L196.78 128.70 L196.94 128.84 L197.09 128.97 L197.25 129.11 L197.40 129.26 L197.56 129.40 L197.71 129.54 L197.86 129.69 L198.02 129.84 L198.17 129.98 L198.33 130.13 L198.48 130.28 L198.64 130.44 L198.79 130.59 L198.94 130.74 L199.10 130.90 L199.25 131.06 L199.41 131.21 L199.56 131.37 L199.71 131.53 L199.87 131.69 L200.02 131.86 L200.18 132.02 L200.33 132.18 L200.49 132.35 L200.64 132.52 L200.79 132.68 L200.95 132.85 L201.10 133.02 L201.26 133.19 L201.41 133.37 L201.57 133.54 L201.72 133.71 L201.87 133.89 L202.03 134.06 L202.18 134.24 L202.34 134.42 L202.49 134.60 L202.65 134.78 L202.80 134.96 L202.95 135.14 L203.11 135.32 L203.26 135.51 L203.42 135.69 L203.57 135.88 L203.72 136.07 L203.88 136.25 L204.03 136.44 L204.19 136.63 L204.34 136.82 L204.50 137.01 L204.65 137.21 L204.80 137.40 L204.96 137.59 L205.11 137.79 L205.27 137.98 L205.42 138.18 L205.58 138.38 L205.73 138.58 L205.88 138.77 L206.04 138.97 L206.19 139.17 L206.35 139.38 L206.50 139.58 L206.66 139.78 L206.81 139.98 L206.96 140.19 L207.12 140.39 L207.27 140.60 L207.43 140.81 L207.58 141.01 L207.74 141.22 L207.89 141.43 L208.04 141.64 L208.20 141.85 L208.35 142.06 L208.51 142.27 L208.66 142.49 L208.81 142.70 L208.97 142.91 L209.12 143.13 L209.28 143.34 L209.43 143.56 L209.59 143.77 L209.74 143.99 L209.89 144.21 L210.05 144.42 L210.20 144.64 L210.36 144.86 L210.51 145.08 L210.67 145.30 L210.82 145.52 L210.97 145.74 L211.13 145.96 L211.28 146.19 L211.44 146.41 L211.59 146.63 L211.75 146.86 L211.90 147.08 L212.05 147.30 L212.21 147.53 L212.36 147.76 L212.52 147.98 L212.67 148.21 L212.82 148.44 L212.98 148.66 L213.13 148.89 L213.29 149.12 L213.44 149.35 L213.60 149.58 L213.75 149.81 L213.90 150.04 L214.06 150.27 L214.21 150.50 L214.37 150.73 L214.52 150.96 L214.68 151.19 L214.83 151.43 L214.98 151.66 L215.14 151.89 L215.29 152.13 L215.45 152.36 L215.60 152.60 L215.76 152.83 L215.91 153.07 L216.06 153.30 L216.22 153.54 L216.37 153.77 L216.53 154.01 L216.68 154.24 L216.84 154.48 L216.99 154.72 L217.14 154.96 L217.30 155.19 L217.45 155.43 L217.61 155.67 L217.76 155.91 L217.91 156.15 L218.07 156.39 L218.22 156.63 L218.38 156.87 L218.53 157.11 L218.69 157.35 L218.84 157.59 L218.99 157.83 L219.15 158.07 L219.30 158.31 L219.46 158.55 L219.61 158.79 L219.77 159.03 L219.92 159.27 L220.07 159.52 L220.23 159.76 L220.38 160.00 L220.54 160.24 L220.69 160.49 L220.85 160.73 L221.00 160.97 L221.15 161.21 L221.31 161.46 L221.46 161.70 L221.62 161.94 L221.77 162.19 L221.93 162.43 L222.08 162.68 L222.23 162.92 L222.39 163.16 L222.54 163.41 L222.70 163.65 L222.85 163.90 L223.00 164.14 L223.16 164.39 L223.31 164.64 L223.47 164.88 L223.62 165.13 L223.78 165.38 L223.93 165.62 L224.08 165.87 L224.24 166.12 L224.39 166.36 L224.55 166.61 L224.70 166.86 L224.86 167.11 L225.01 167.36 L225.16 167.61 L225.32 167.86 L225.47 168.10 L225.63 168.35 L225.78 168.60 L225.94 168.85 L226.09 169.10 L226.24 169.35 L226.40 169.60 L226.55 169.85 L226.71 170.10 L226.86 170.35 L227.01 170.60 L227.17 170.85 L227.32 171.10 L227.48 171.36 L227.63 171.61 L227.79 171.86 L227.94 172.11 L228.09 172.36 L228.25 172.61 L228.40 172.86 L228.56 173.11 L228.71 173.36 L228.87 173.61 L229.02 173.87 L229.17 174.12 L229.33 174.37 L229.48 174.62 L229.64 174.87 L229.79 175.12 L229.95 175.37 L230.10 175.62 L230.25 175.88 L230.41 176.13 L230.56 176.38 L230.72 176.63 L230.87 176.88 L231.03 177.13 L231.18 177.38 L231.33 177.63 L231.49 177.88 L231.64 178.13 L231.80 178.39 L231.95 178.64 L232.10 178.89 L232.26 179.14 L232.41 179.39 L232.57 179.64 L232.72 179.89 L232.88 180.14 L233.03 180.39 L233.18 180.64 L233.34 180.89 L233.49 181.14 L233.65 181.39 L233.80 181.63 L233.96 181.88 L234.11 182.13 L234.26 182.38 L234.42 182.63 L234.57 182.88 L234.73 183.12 L234.88 183.37 L235.04 183.62 L235.19 183.87 L235.34 184.11 L235.50 184.36 L235.65 184.61 L235.81 184.86 L235.96 185.10 L236.11 185.35 L236.27 185.59 L236.42 185.84 L236.58 186.08 L236.73 186.33 L236.89 186.57 L237.04 186.82 L237.19 187.06 L237.35 187.31 L237.50 187.55 L237.66 187.79 L237.81 188.04 L237.97 188.28 L238.12 188.52 L238.27 188.76 L238.43 189.01 L238.58 189.25 L238.74 189.49 L238.89 189.73 L239.05 189.97 L239.20 190.21 L239.35 190.45 L239.51 190.69 L239.66 190.93 L239.82 191.17 L239.97 191.41 L240.13 191.65 L240.28 191.89 L240.43 192.13 L240.59 192.37 L240.74 192.61 L240.90 192.85 L241.05 193.09 L241.20 193.32 L241.36 193.56 L241.51 193.80 L241.67 194.04 L241.82 194.27 L241.98 194.51 L242.13 194.75 L242.28 194.99 L242.44 195.22 L242.59 195.46 L242.75 195.69 L242.90 195.93 L243.06 196.17 L243.21 196.40 L243.36 196.64 L243.52 196.87 L243.67 197.11 L243.83 197.34 L243.98 197.58 L244.14 197.81 L244.29 198.05 L244.44 198.28 L244.60 198.52 L244.75 198.75 L244.91 198.98 L245.06 199.22 L245.22 199.45 L245.37 199.68 L245.52 199.92 L245.68 200.15 L245.83 200.38 L245.99 200.62 L246.14 200.85 L246.29 201.08 L246.45 201.31 L246.60 201.54 L246.76 201.78 L246.91 202.01 L247.07 202.24 L247.22 202.47 L247.37 202.70 L247.53 202.93 L247.68 203.17 L247.84 203.40 L247.99 203.63 L248.15 203.86 L248.30 204.09 L248.45 204.32 L248.61 204.55 L248.76 204.78 L248.92 205.01 L249.07 205.24 L249.23 205.47 L249.38 205.70 L249.53 205.93 L249.69 206.16 L249.84 206.39 L250.00 206.62 L250.15 206.85 L250.30 207.08 L250.46 207.31 L250.61 207.54 L250.77 207.77 L250.92 208.00 L251.08 208.22 L251.23 208.45 L251.38 208.68 L251.54 208.91 L251.69 209.14 L251.85 209.37 L252.00 209.60 L252.16 209.82 L252.31 210.05 L252.46 210.28 L252.62 210.51 L252.77 210.74 L252.93 210.97 L253.08 211.19 L253.24 211.42 L253.39 211.65 L253.54 211.88 L253.70 212.10 L253.85 212.33 L254.01 212.56 L254.16 212.79 L254.32 213.02 L254.47 213.24 L254.62 213.47 L254.78 213.70 L254.93 213.93 L255.09 214.15 L255.24 214.38 L255.39 214.61 L255.55 214.84 L255.70 215.06 L255.86 215.29 L256.01 215.52 L256.17 215.74 L256.32 215.97 L256.47 216.20 L256.63 216.43 L256.78 216.65 L256.94 216.88 L257.09 217.11 L257.25 217.34 L257.40 217.56 L257.55 217.79 L257.71 218.02 L257.86 218.25 L258.02 218.47 L258.17 218.70 L258.33 218.93 L258.48 219.15 L258.63 219.38 L258.79 219.61 L258.94 219.83 L259.10 220.06 L259.25 220.28 L259.40 220.51 L259.56 220.74 L259.71 220.96 L259.87 221.19 L260.02 221.41 L260.18 221.64 L260.33 221.86 L260.48 222.09 L260.64 222.31 L260.79 222.54 L260.95 222.76 L261.10 222.99 L261.26 223.21 L261.41 223.44 L261.56 223.66 L261.72 223.88 L261.87 224.11 L262.03 224.33 L262.18 224.55 L262.34 224.78 L262.49 225.00 L262.64 225.22 L262.80 225.45 L262.95 225.67 L263.11 225.89 L263.26 226.11 L263.42 226.34 L263.57 226.56 L263.72 226.78 L263.88 227.00 L264.03 227.22 L264.19 227.45 L264.34 227.67 L264.49 227.89 L264.65 228.11 L264.80 228.33 L264.96 228.55 L265.11 228.77 L265.27 228.99 L265.42 229.21 L265.57 229.43 L265.73 229.65 L265.88 229.87 L266.04 230.09 L266.19 230.31 L266.35 230.53 L266.50 230.75 L266.65 230.96 L266.81 231.18 L266.96 231.40 L267.12 231.62 L267.27 231.84 L267.43 232.06 L267.58 232.27 L267.73 232.49 L267.89 232.71 L268.04 232.92 L268.20 233.14 L268.35 233.36 L268.51 233.58 L268.66 233.79 L268.81 234.01 L268.97 234.22 L269.12 234.44 L269.28 234.65 L269.43 234.87 L269.58 235.09 L269.74 235.30 L269.89 235.52 L270.05 235.73 L270.20 235.94 L270.36 236.16 L270.51 236.37 L270.66 236.59 L270.82 236.80 L270.97 237.01 L271.13 237.23 L271.28 237.44 L271.44 237.65 L271.59 237.87 L271.74 238.08 L271.90 238.29 L272.05 238.50 L272.21 238.71 L272.36 238.93 L272.52 239.14 L272.67 239.35 L272.82 239.56 L272.98 239.77 L273.13 239.98 L273.29 240.19 L273.44 240.40 L273.59 240.61 L273.75 240.82 L273.90 241.03 L274.06 241.24 L274.21 241.45 L274.37 241.66 L274.52 241.87 L274.67 242.08 L274.83 242.28 L274.98 242.49 L275.14 242.70 L275.29 242.91 L275.45 243.11 L275.60 243.32 L278.28 246.88 L280.95 250.37 L283.63 253.79 L286.31 257.14 L288.98 260.42 L291.66 263.64 L294.34 266.80 L297.02 269.91 L299.69 272.97 L302.37 275.97 L305.05 278.92 L307.72 281.81 L310.40 284.65 L313.08 287.43 L315.75 290.16 L318.43 292.83 L321.11 295.46 L323.78 298.03 L326.46 300.54 L329.14 303.01 L331.81 305.42 L334.49 307.78 L337.17 310.10 L339.85 312.36 L342.52 314.58 L345.20 316.74 L347.88 318.86 L350.55 320.93 L353.23 322.95 L355.91 324.93 L358.58 326.86 L361.26 328.76 L363.94 330.61 L366.61 332.43 L369.29 334.21 L371.97 335.96 L374.64 337.67 L377.32 339.36 L380.00 341.01 L382.68 342.64 L385.35 344.24 L388.03 345.81 L390.71 347.34 L393.38 348.85 L396.06 350.33 L398.74 351.78 L401.41 353.20 L404.09 354.60 L406.77 355.97 L409.44 357.32 L412.12 358.64 L414.80 359.94 L417.47 361.21 L420.15 362.46 L422.83 363.69 L425.51 364.89 L428.18 366.07 L430.86 367.23 L433.54 368.37 L436.21 369.49 L438.89 370.59 L441.57 371.67 L444.24 372.73 L446.92 373.78 L449.60 374.80 L452.27 375.81 L454.95 376.80 L457.63 377.77 L460.31 378.73 L462.98 379.69 L465.66 380.63 L468.34 381.55 L471.01 382.45 L473.69 383.35 L476.37 384.22 L479.04 385.08 L481.72 385.93 L484.40 386.76 L487.07 387.58 L489.75 388.39 L492.43 389.18 L495.10 389.96 L497.78 390.73 L500.46 391.48 L503.14 392.22 L505.81 392.96 L508.49 393.67 L511.17 394.38 L513.84 395.08 L516.52 395.76 L519.20 396.44 L521.87 397.10 L524.55 397.76 L527.23 398.40 L529.90 399.03 L532.58 399.66 L535.26 400.27 L537.93 400.88 L540.61 401.48 L543.29 402.06 L545.97 402.64 L548.64 403.21 L551.32 403.78 L554.00 404.33 L556.67 404.88 L559.35 405.41 L562.03 405.94 L564.70 406.47 L567.38 406.98 L570.06 407.49 L572.73 407.99 L575.41 408.48 L578.09 408.97 L580.76 409.45 L583.44 409.92 L586.12 410.39 L588.80 410.85 L591.47 411.30 L594.15 411.75 L596.83 412.19 L599.50 412.63 L602.18 413.06 L604.86 413.48 L607.53 413.90 L610.21 414.31 L612.89 414.72 L615.56 415.12 L618.24 415.52 L620.92 415.91 L623.59 416.30 L626.27 416.68 L628.95 417.06 L631.63 417.43 L634.30 417.80 L636.98 418.16 L639.66 418.52 L642.33 418.88 L645.01 419.24 L647.69 419.59 L650.36 419.95 L653.04 420.29 L655.72 420.64 L658.39 420.97 L661.07 421.31 L663.75 421.64 L666.43 421.97 L669.10 422.29 L671.78 422.61 L674.46 422.93 L677.13 423.24 L679.81 423.55 L682.49 423.85 L685.16 424.16 L687.84 424.45 L690.52 424.75 L693.19 425.04 L695.87 425.33 L698.55 425.61 L701.22 425.90 L703.90 426.18 L706.58 426.45 L709.26 426.73 L711.93 427.00 L714.61 427.26 L717.29 427.53 L719.96 427.79 L722.64 428.05 L725.32 428.30 L727.99 428.56 L730.67 428.81 L733.35 429.06 L736.02 429.30 L738.70 429.54 L741.38 429.79 L744.05 430.02 L746.73 430.26 L749.41 430.49 L752.09 430.72 L754.76 430.95 L757.44 431.18 L760.12 431.40 L762.79 431.62 L765.47 431.84 L768.15 432.06 L770.82 432.28 L773.50 432.49 L776.18 432.70 L778.85 432.91 L781.53 433.12 L784.21 433.32 L786.88 433.53 L789.56 433.73 L792.24 433.93 L794.92 434.12 L797.59 434.32 L800.27 434.51 L802.95 434.70 L805.62 434.89 L808.30 435.08" stroke="#0000ff" stroke-width="3.6" stroke-linecap="square"/>
<path d="M162.11 492.97 L162.24 491.12 L162.37 489.27 L162.50 487.43 L162.63 485.60 L162.76 483.78 L162.88 481.97 L163.01 480.17 L163.14 478.38 L163.27 476.60 L163.40 474.83 L163.53 473.07 L163.66 471.32 L163.79 469.58 L163.92 467.84 L164.04 466.12 L164.17 464.41 L164.30 462.71 L164.43 461.02 L164.56 459.34 L164.69 457.67 L164.82 456.01 L164.95 454.35 L165.08 452.71 L165.21 451.08 L165.33 449.46 L165.46 447.85 L165.59 446.24 L165.72 444.65 L165.85 443.07 L165.98 441.50 L166.11 439.93 L166.24 438.38 L166.37 436.84 L166.50 435.30 L166.62 433.78 L166.75 432.26 L166.88 430.76 L167.01 429.26 L167.14 427.78 L167.27 426.30 L167.40 424.83 L167.53 423.38 L167.66 421.93 L167.78 420.49 L167.91 419.06 L168.04 417.64 L168.17 416.23 L168.30 414.83 L168.43 413.44 L168.56 412.06 L168.69 410.68 L168.82 409.32 L168.95 407.96 L169.07 406.62 L169.20 405.28 L169.33 403.95 L169.46 402.63 L169.59 401.32 L169.72 400.02 L169.85 398.73 L169.98 397.44 L170.11 396.17 L170.24 394.90 L170.36 393.65 L170.49 392.40 L170.62 391.16 L170.75 389.92 L170.88 388.70 L171.01 387.49 L171.14 386.28 L171.27 385.08 L171.40 383.89 L171.52 382.71 L171.65 381.54 L171.78 380.37 L171.91 379.21 L172.04 378.06 L172.17 376.92 L172.30 375.79 L172.43 374.67 L172.56 373.55 L172.69 372.44 L172.81 371.34 L172.94 370.24 L173.07 369.16 L173.20 368.08 L173.33 367.01 L173.46 365.95 L173.59 364.89 L173.72 363.85 L173.85 362.81 L173.98 361.77 L174.10 360.75 L174.23 359.73 L174.36 358.72 L174.49 357.72 L174.62 356.72 L174.75 355.73 L174.88 354.75 L175.01 353.77 L175.14 352.81 L175.26 351.85 L175.39 350.89 L175.52 349.95 L175.65 349.01 L175.78 348.07 L175.91 347.15 L176.04 346.23 L176.17 345.31 L176.30 344.41 L176.43 343.51 L176.55 342.62 L176.68 341.73 L176.81 340.85 L176.94 339.98 L177.07 339.11 L177.20 338.25 L177.33 337.39 L177.46 336.55 L177.59 335.70 L177.72 334.87 L177.84 334.04 L177.97 333.22 L178.10 332.40 L178.23 331.59 L178.36 330.78 L178.49 329.98 L178.62 329.19 L178.75 328.40 L178.88 327.62 L179.00 326.84 L179.13 326.07 L179.26 325.31 L179.39 324.55 L179.52 323.80 L179.65 323.05 L179.78 322.31 L179.91 321.57 L180.04 320.84 L180.17 320.12 L180.29 319.40 L180.42 318.68 L180.55 317.97 L180.68 317.27 L180.81 316.57 L180.94 315.88 L181.07 315.19 L181.20 314.51 L181.33 313.83 L181.46 313.16 L181.58 312.49 L181.71 311.83 L181.84 311.17 L181.97 310.52 L182.10 309.87 L182.23 309.23 L182.36 308.59 L182.49 307.96 L182.62 307.33 L182.74 306.71 L182.87 306.09 L183.00 305.47 L183.13 304.87 L183.26 304.26 L183.39 303.66 L183.52 303.07 L183.65 302.47 L183.78 301.89 L183.91 301.31 L184.03 300.73 L184.16 300.16 L184.29 299.59 L184.42 299.02 L184.55 298.46 L184.68 297.91 L184.81 297.36 L184.94 296.81 L185.07 296.27 L185.20 295.73 L185.32 295.19 L185.45 294.66 L185.58 294.14 L185.71 293.61 L185.84 293.10 L185.97 292.58 L186.10 292.07 L186.23 291.57 L186.36 291.06 L186.48 290.57 L186.61 290.07 L186.74 289.58 L186.87 289.09 L187.00 288.61 L187.13 288.13 L187.26 287.66 L187.39 287.18 L187.52 286.72 L187.65 286.25 L187.77 285.79 L187.90 285.33 L188.03 284.88 L188.16 284.43 L188.29 283.98 L188.42 283.54 L188.55 283.10 L188.68 282.66 L188.81 282.23 L188.94 281.80 L189.06 281.38 L189.19 280.95 L189.32 280.54 L189.45 280.12 L189.58 279.71 L189.71 279.30 L189.84 278.89 L189.97 278.49 L190.10 278.09 L190.22 277.69 L190.35 277.30 L190.48 276.91 L190.61 276.53 L190.74 276.14 L190.87 275.76 L191.00 275.38 L191.13 275.01 L191.26 274.64 L191.39 274.27 L191.51 273.91 L191.64 273.54 L191.77 273.18 L191.90 272.83 L192.03 272.47 L192.16 272.12 L192.29 271.77 L192.42 271.43 L192.55 271.09 L192.68 270.75 L192.80 270.41 L192.93 270.08 L193.06 269.75 L193.19 269.42 L193.32 269.09 L193.45 268.77 L193.58 268.45 L193.71 268.13 L193.84 267.82 L193.96 267.51 L194.09 267.20 L194.22 266.89 L194.35 266.58 L194.48 266.28 L194.61 265.98 L194.74 265.69 L194.87 265.39 L195.00 265.10 L195.13 264.81 L195.25 264.52 L195.38 264.24 L195.51 263.96 L195.64 263.68 L195.77 263.40 L195.90 263.13 L196.03 262.85 L196.16 262.58 L196.29 262.32 L196.42 262.05 L196.54 261.79 L196.67 261.53 L196.80 261.27 L196.93 261.01 L197.06 260.76 L197.19 260.51 L197.32 260.26 L197.45 260.01 L197.58 259.76 L197.70 259.52 L197.83 259.28 L197.96 259.04 L198.09 258.80 L198.22 258.57 L198.35 258.34 L198.48 258.11 L198.61 257.88 L198.74 257.65 L198.87 257.43 L198.99 257.21 L199.12 256.99 L199.25 256.77 L199.38 256.55 L199.51 256.34 L199.64 256.13 L199.77 255.92 L199.90 255.71 L200.03 255.50 L200.16 255.30 L200.28 255.09 L200.41 254.89 L200.54 254.70 L200.67 254.50 L200.80 254.30 L200.93 254.11 L201.06 253.92 L201.19 253.73 L201.32 253.54 L201.44 253.36 L201.57 253.17 L201.70 252.99 L201.83 252.81 L201.96 252.63 L202.09 252.45 L202.22 252.28 L202.35 252.11 L202.48 251.93 L202.61 251.76 L202.73 251.60 L202.86 251.43 L202.99 251.26 L203.12 251.10 L203.25 250.94 L203.38 250.78 L203.51 250.62 L203.64 250.46 L203.77 250.31 L203.90 250.16 L204.02 250.00 L204.15 249.85 L204.28 249.70 L204.41 249.56 L204.54 249.41 L204.67 249.27 L204.80 249.12 L204.93 248.98 L205.06 248.84 L205.18 248.71 L205.31 248.57 L205.44 248.43 L205.57 248.30 L205.70 248.17 L205.83 248.04 L205.96 247.91 L206.09 247.78 L206.22 247.65 L206.35 247.53 L206.47 247.41 L206.60 247.28 L206.73 247.16 L206.86 247.04 L206.99 246.93 L207.12 246.81 L207.25 246.69 L207.38 246.58 L207.51 246.47 L207.64 246.36 L207.76 246.25 L207.89 246.14 L208.02 246.03 L208.15 245.93 L208.28 245.82 L208.41 245.72 L208.54 245.62 L208.67 245.52 L208.80 245.42 L208.92 245.32 L209.05 245.22 L209.18 245.13 L209.31 245.03 L209.44 244.94 L209.57 244.85 L209.70 244.76 L209.83 244.67 L209.96 244.58 L210.09 244.49 L210.21 244.41 L210.34 244.32 L210.47 244.24 L210.60 244.16 L210.73 244.08 L210.86 244.00 L210.99 243.92 L211.12 243.84 L211.25 243.76 L211.38 243.69 L211.50 243.61 L211.63 243.54 L211.76 243.47 L211.89 243.40 L212.02 243.33 L212.15 243.26 L212.28 243.19 L212.41 243.12 L212.54 243.06 L212.66 242.99 L212.79 242.93 L212.92 242.87 L213.05 242.81 L213.18 242.75 L213.31 242.69 L213.44 242.63 L213.57 242.57 L213.70 242.52 L213.83 242.46 L213.95 242.41 L214.08 242.36 L214.21 242.30 L214.34 242.25 L214.47 242.20 L214.60 242.15 L214.73 242.11 L214.86 242.06 L214.99 242.01 L215.12 241.97 L215.24 241.92 L215.37 241.88 L215.50 241.84 L215.63 241.80 L215.76 241.76 L215.89 241.72 L216.02 241.68 L216.15 241.64 L216.28 241.60 L216.40 241.57 L216.53 241.53 L216.66 241.50 L216.79 241.46 L216.92 241.43 L217.05 241.40 L217.18 241.37 L217.31 241.34 L217.44 241.31 L217.57 241.28 L217.69 241.26 L217.82 241.23 L217.95 241.21 L218.08 241.18 L218.21 241.16 L218.34 241.13 L218.47 241.11 L218.60 241.09 L218.73 241.07 L218.86 241.05 L218.98 241.03 L219.11 241.01 L219.24 241.00 L219.37 240.98 L219.50 240.97 L219.63 240.95 L219.76 240.94 L219.89 240.92 L220.02 240.91 L220.14 240.90 L220.27 240.89 L220.40 240.88 L220.53 240.87 L220.66 240.86 L220.79 240.85 L220.92 240.85 L221.05 240.84 L221.18 240.83 L221.31 240.83 L221.43 240.82 L221.56 240.82 L221.69 240.82 L221.82 240.82 L221.95 240.81 L222.08 240.81 L222.21 240.81 L222.34 240.82 L222.47 240.82 L222.60 240.82 L222.72 240.82 L222.85 240.83 L222.98 240.83 L223.11 240.83 L223.24 240.84 L223.37 240.85 L223.50 240.85 L223.63 240.86 L223.76 240.87 L223.88 240.88 L224.01 240.89 L224.14 240.90 L224.27 240.91 L224.40 240.92 L224.53 240.93 L224.66 240.95 L224.79 240.96 L224.92 240.97 L225.05 240.99 L225.17 241.01 L225.30 241.04 L225.43 241.06 L225.56 241.08 L225.69 241.11 L225.82 241.14 L225.95 241.16 L226.08 241.19 L226.21 241.22 L226.34 241.24 L226.46 241.27 L226.59 241.30 L226.72 241.33 L226.85 241.36 L226.98 241.39 L227.11 241.42 L227.24 241.45 L227.37 241.49 L227.50 241.52 L227.62 241.55 L227.75 241.59 L227.88 241.62 L228.01 241.66 L228.14 241.69 L228.27 241.73 L228.40 241.76 L228.53 241.80 L228.66 241.84 L228.79 241.88 L228.91 241.92 L229.04 241.95 L229.17 241.99 L229.30 242.03 L229.43 242.08 L229.56 242.12 L229.69 242.16 L229.82 242.20 L229.95 242.24 L230.08 242.29 L230.20 242.33 L230.33 242.37 L230.46 242.42 L230.59 242.46 L230.72 242.51 L230.85 242.55 L230.98 242.60 L231.11 242.65 L231.24 242.69 L231.36 242.74 L231.49 242.79 L231.62 242.84 L231.75 242.89 L231.88 242.94 L232.01 242.99 L232.14 243.04 L232.27 243.09 L232.40 243.14 L232.53 243.19 L232.65 243.24 L232.78 243.30 L232.91 243.35 L233.04 243.40 L233.17 243.46 L233.30 243.51 L233.43 243.57 L233.56 243.62 L233.69 243.68 L233.82 243.73 L233.94 243.79 L234.07 243.84 L234.20 243.90 L234.33 243.96 L234.46 244.02 L234.59 244.08 L234.72 244.13 L234.85 244.19 L234.98 244.25 L235.10 244.31 L235.23 244.37 L235.36 244.43 L235.49 244.49 L235.62 244.55 L235.75 244.61 L235.88 244.68 L236.01 244.74 L236.14 244.80 L236.27 244.86 L236.39 244.93 L236.52 244.99 L236.65 245.05 L236.78 245.12 L236.91 245.18 L237.04 245.25 L237.17 245.31 L237.30 245.38 L237.43 245.44 L237.56 245.51 L237.68 245.57 L237.81 245.64 L237.94 245.71 L238.07 245.77 L238.20 245.84 L238.33 245.91 L238.46 245.98 L238.59 246.05 L238.72 246.11 L238.84 246.18 L238.97 246.25 L239.10 246.32 L239.23 246.39 L239.36 246.46 L239.49 246.53 L239.62 246.60 L239.75 246.68 L239.88 246.75 L240.01 246.82 L240.13 246.89 L240.26 246.97 L240.39 247.04 L240.52 247.11 L240.65 247.19 L240.78 247.26 L240.91 247.33 L241.04 247.41 L241.17 247.48 L241.30 247.56 L241.42 247.63 L241.55 247.71 L241.68 247.79 L241.81 247.86 L241.94 247.94 L242.07 248.02 L242.20 248.10 L242.33 248.17 L242.46 248.25 L242.58 248.33 L242.71 248.41 L242.84 248.49 L242.97 248.57 L243.10 248.65 L243.23 248.73 L243.36 248.81 L243.49 248.89 L243.62 248.97 L243.75 249.06 L243.87 249.14 L244.00 249.22 L244.13 249.30 L244.26 249.39 L244.39 249.47 L244.52 249.55 L244.65 249.64 L244.78 249.72 L244.91 249.81 L245.04 249.89 L245.16 249.98 L245.29 250.07 L245.42 250.15 L245.55 250.24 L245.68 250.33 L245.81 250.41 L245.94 250.50 L246.07 250.59 L246.20 250.68 L246.32 250.77 L246.45 250.86 L246.58 250.95 L246.71 251.04 L246.84 251.13 L246.97 251.22 L247.10 251.32 L247.23 251.41 L247.36 251.50 L247.49 251.60 L247.61 251.69 L247.74 251.79 L247.87 251.88 L248.00 251.98 L248.13 252.08 L248.26 252.18 L248.39 252.27 L248.52 252.37 L248.65 252.47 L248.78 252.57 L248.90 252.67 L249.03 252.77 L249.16 252.87 L249.29 252.97 L249.42 253.07 L249.55 253.17 L249.68 253.27 L249.81 253.38 L249.94 253.48 L250.06 253.58 L250.19 253.68 L250.32 253.79 L250.45 253.89 L250.58 253.99 L250.71 254.10 L250.84 254.20 L250.97 254.31 L251.10 254.41 L251.23 254.52 L251.35 254.62 L251.48 254.73 L251.61 254.83 L251.74 254.94 L251.87 255.05 L252.00 255.15 L252.13 255.26 L252.26 255.37 L252.39 255.47 L252.52 255.58 L252.64 255.69 L252.77 255.79 L252.90 255.90 L253.03 256.01 L253.16 256.12 L253.29 256.22 L253.42 256.33 L253.55 256.44 L253.68 256.55 L253.80 256.65 L253.93 256.76 L254.06 256.87 L254.19 256.98 L254.32 257.09 L254.45 257.19 L254.58 257.30 L254.71 257.41 L254.84 257.52 L254.97 257.62 L255.09 257.73 L255.22 257.84 L255.35 257.95 L255.48 258.05 L255.61 258.16 L255.74 258.27 L255.87 258.37 L256.00 258.48 L256.13 258.59 L256.26 258.69 L256.38 258.80 L256.51 258.91 L256.64 259.01 L256.77 259.12 L256.90 259.22 L257.03 259.33 L257.16 259.43 L257.29 259.54 L257.42 259.64 L257.54 259.75 L257.67 259.85 L257.80 259.96 L257.93 260.06 L258.06 260.16 L258.19 260.27 L258.32 260.37 L258.45 260.47 L258.58 260.58 L258.71 260.68 L258.83 260.78 L258.96 260.89 L259.09 260.99 L259.22 261.10 L259.35 261.20 L259.48 261.30 L259.61 261.41 L259.74 261.51 L259.87 261.62 L260.00 261.72 L260.12 261.83 L260.25 261.93 L260.38 262.04 L260.51 262.14 L260.64 262.24 L260.77 262.35 L260.90 262.45 L261.03 262.56 L261.16 262.66 L261.28 262.77 L261.41 262.87 L261.54 262.98 L261.67 263.09 L261.80 263.19 L261.93 263.30 L262.06 263.40 L262.19 263.51 L262.32 263.61 L262.45 263.72 L262.57 263.82 L262.70 263.93 L262.83 264.04 L262.96 264.14 L263.09 264.25 L263.22 264.35 L263.35 264.46 L263.48 264.57 L263.61 264.67 L263.74 264.78 L263.86 264.89 L263.99 264.99 L264.12 265.10 L264.25 265.21 L264.38 265.31 L264.51 265.42 L264.64 265.53 L264.77 265.63 L264.90 265.74 L265.02 265.85 L265.15 265.95 L265.28 266.06 L265.41 266.17 L265.54 266.27 L265.67 266.38 L265.80 266.49 L265.93 266.60 L266.06 266.70 L266.19 266.81 L266.31 266.92 L266.44 267.03 L266.57 267.14 L266.70 267.24 L266.83 267.35 L266.96 267.46 L267.09 267.57 L267.22 267.67 L267.35 267.78 L267.48 267.89 L267.60 268.00 L267.73 268.11 L267.86 268.22 L267.99 268.32 L268.12 268.43 L268.25 268.54 L268.38 268.65 L268.51 268.76 L268.64 268.87 L268.76 268.98 L268.89 269.08 L269.02 269.19 L269.15 269.30 L269.28 269.41 L269.41 269.52 L269.54 269.63 L269.67 269.74 L269.80 269.85 L269.93 269.96 L270.05 270.07 L270.18 270.18 L270.31 270.29 L270.44 270.40 L270.57 270.51 L270.70 270.62 L270.83 270.72 L270.96 270.83 L271.09 270.94 L271.22 271.05 L271.34 271.16 L271.47 271.27 L271.60 271.38 L271.73 271.49 L271.86 271.60 L271.99 271.72 L272.12 271.83 L272.25 271.94 L272.38 272.05 L272.50 272.16 L272.63 272.27 L272.76 272.38 L272.89 272.49 L273.02 272.60 L273.15 272.71 L273.28 272.82 L273.41 272.93 L273.54 273.04 L273.67 273.15 L273.79 273.26 L273.92 273.37 L274.05 273.49 L274.18 273.60 L274.31 273.71 L274.44 273.82 L274.57 273.93 L274.70 274.04 L274.83 274.15 L274.96 274.26 L275.08 274.37 L275.21 274.48 L275.34 274.60 L275.47 274.71 L275.60 274.82 L278.28 277.13 L280.95 279.45 L283.63 281.78 L286.31 284.10 L288.98 286.42 L291.66 288.73 L294.34 291.02 L297.02 293.31 L299.69 295.58 L302.37 297.83 L305.05 300.07 L307.72 302.29 L310.40 304.49 L313.08 306.66 L315.75 308.80 L318.43 310.92 L321.11 313.00 L323.78 315.04 L326.46 317.03 L329.14 318.98 L331.81 320.89 L334.49 322.76 L337.17 324.61 L339.85 326.43 L342.52 328.24 L345.20 330.04 L347.88 331.83 L350.55 333.59 L353.23 335.32 L355.91 337.03 L358.58 338.71 L361.26 340.37 L363.94 341.99 L366.61 343.59 L369.29 345.16 L371.97 346.69 L374.64 348.20 L377.32 349.67 L380.00 351.12 L382.68 352.53 L385.35 353.92 L388.03 355.28 L390.71 356.61 L393.38 357.92 L396.06 359.21 L398.74 360.47 L401.41 361.70 L404.09 362.92 L406.77 364.11 L409.44 365.29 L412.12 366.44 L414.80 367.58 L417.47 368.70 L420.15 369.79 L422.83 370.87 L425.51 371.93 L428.18 372.96 L430.86 373.98 L433.54 374.98 L436.21 375.97 L438.89 376.94 L441.57 377.89 L444.24 378.82 L446.92 379.74 L449.60 380.64 L452.27 381.53 L454.95 382.41 L457.63 383.27 L460.31 384.12 L462.98 384.95 L465.66 385.77 L468.34 386.58 L471.01 387.38 L473.69 388.16 L476.37 388.93 L479.04 389.68 L481.72 390.43 L484.40 391.16 L487.07 391.88 L489.75 392.59 L492.43 393.28 L495.10 393.97 L497.78 394.65 L500.46 395.31 L503.14 395.97 L505.81 396.62 L508.49 397.25 L511.17 397.88 L513.84 398.50 L516.52 399.11 L519.20 399.71 L521.87 400.30 L524.55 400.89 L527.23 401.46 L529.90 402.03 L532.58 402.58 L535.26 403.13 L537.93 403.67 L540.61 404.20 L543.29 404.73 L545.97 405.25 L548.64 405.76 L551.32 406.26 L554.00 406.75 L556.67 407.24 L559.35 407.72 L562.03 408.20 L564.70 408.67 L567.38 409.13 L570.06 409.58 L572.73 410.03 L575.41 410.48 L578.09 410.92 L580.76 411.35 L583.44 411.78 L586.12 412.20 L588.80 412.61 L591.47 413.02 L594.15 413.43 L596.83 413.83 L599.50 414.23 L602.18 414.63 L604.86 415.02 L607.53 415.40 L610.21 415.79 L612.89 416.16 L615.56 416.54 L618.24 416.90 L620.92 417.27 L623.59 417.62 L626.27 417.98 L628.95 418.33 L631.63 418.67 L634.30 419.01 L636.98 419.35 L639.66 419.68 L642.33 420.01 L645.01 420.35 L647.69 420.68 L650.36 421.01 L653.04 421.33 L655.72 421.65 L658.39 421.96 L661.07 422.28 L663.75 422.58 L666.43 422.89 L669.10 423.19 L671.78 423.49 L674.46 423.78 L677.13 424.07 L679.81 424.36 L682.49 424.64 L685.16 424.93 L687.84 425.20 L690.52 425.48 L693.19 425.75 L695.87 426.02 L698.55 426.29 L701.22 426.55 L703.90 426.81 L706.58 427.07 L709.26 427.32 L711.93 427.58 L714.61 427.83 L717.29 428.07 L719.96 428.32 L722.64 428.56 L725.32 428.80 L727.99 429.04 L730.67 429.27 L733.35 429.50 L736.02 429.73 L738.70 429.96 L741.38 430.18 L744.05 430.41 L746.73 430.63 L749.41 430.85 L752.09 431.06 L754.76 431.28 L757.44 431.49 L760.12 431.70 L762.79 431.91 L765.47 432.11 L768.15 432.32 L770.82 432.52 L773.50 432.72 L776.18 432.92 L778.85 433.12 L781.53 433.31 L784.21 433.50 L786.88 433.69 L789.56 433.88 L792.24 434.07 L794.92 434.26 L797.59 434.44 L800.27 434.62 L802.95 434.80 L805.62 434.98 L808.30 435.16" stroke="#0000ff" stroke-width="1.4" stroke-dasharray="8.4 5.87" stroke-dashoffset="5.76"/>
<path d="M130.02 494.76 L130.18 490.38 L130.35 486.00 L130.51 481.61 L130.67 477.23 L130.84 472.84 L131.00 468.47 L131.17 464.09 L131.33 459.73 L131.50 455.37 L131.66 451.03 L131.82 446.70 L131.99 442.38 L132.15 438.08 L132.32 433.79 L132.48 429.52 L132.65 425.27 L132.81 421.04 L132.97 416.83 L133.14 412.65 L133.30 408.49 L133.47 404.35 L133.63 400.23 L133.80 396.14 L133.96 392.08 L134.12 388.05 L134.29 384.04 L134.45 380.06 L134.62 376.11 L134.78 372.18 L134.95 368.29 L135.11 364.43 L135.27 360.60 L135.44 356.80 L135.60 353.03 L135.77 349.29 L135.93 345.58 L136.10 341.91 L136.26 338.26 L136.43 334.65 L136.59 331.07 L136.75 327.53 L136.92 324.02 L137.08 320.54 L137.25 317.09 L137.41 313.68 L137.58 310.29 L137.74 306.95 L137.90 303.63 L138.07 300.35 L138.23 297.10 L138.40 293.89 L138.56 290.71 L138.73 287.56 L138.89 284.44 L139.05 281.36 L139.22 278.31 L139.38 275.29 L139.55 272.31 L139.71 269.35 L139.88 266.43 L140.04 263.55 L140.20 260.69 L140.37 257.87 L140.53 255.07 L140.70 252.31 L140.86 249.58 L141.03 246.88 L141.19 244.22 L141.35 241.58 L141.52 238.97 L141.68 236.40 L141.85 233.85 L142.01 231.34 L142.18 228.85 L142.34 226.39 L142.50 223.97 L142.67 221.57 L142.83 219.20 L143.00 216.86 L143.16 214.55 L143.33 212.26 L143.49 210.01 L143.66 207.78 L143.82 205.58 L143.98 203.41 L144.15 201.26 L144.31 199.14 L144.48 197.05 L144.64 194.98 L144.81 192.94 L144.97 190.93 L145.13 188.94 L145.30 186.98 L145.46 185.04 L145.63 183.12 L145.79 181.24 L145.96 179.37 L146.12 177.53 L146.28 175.71 L146.45 173.92 L146.61 172.15 L146.78 170.41 L146.94 168.69 L147.11 166.99 L147.27 165.31 L147.43 163.65 L147.60 162.02 L147.76 160.41 L147.93 158.82 L148.09 157.25 L148.26 155.71 L148.42 154.18 L148.58 152.67 L148.75 151.19 L148.91 149.73 L149.08 148.28 L149.24 146.86 L149.41 145.45 L149.57 144.07 L149.73 142.70 L149.90 141.35 L150.06 140.03 L150.23 138.72 L150.39 137.43 L150.56 136.15 L150.72 134.90 L150.88 133.66 L151.05 132.44 L151.21 131.24 L151.38 130.05 L151.54 128.89 L151.71 127.74 L151.87 126.60 L152.04 125.48 L152.20 124.38 L152.36 123.30 L152.53 122.23 L152.69 121.17 L152.86 120.13 L153.02 119.11 L153.19 118.10 L153.35 117.11 L153.51 116.13 L153.68 115.17 L153.84 114.22 L154.01 113.29 L154.17 112.37 L154.34 111.46 L154.50 110.57 L154.66 109.69 L154.83 108.83 L154.99 107.98 L155.16 107.14 L155.32 106.31 L155.49 105.50 L155.65 104.70 L155.81 103.91 L155.98 103.14 L156.14 102.38 L156.31 101.63 L156.47 100.89 L156.64 100.17 L156.80 99.45 L156.96 98.75 L157.13 98.06 L157.29 97.38 L157.46 96.71 L157.62 96.06 L157.79 95.41 L157.95 94.78 L158.11 94.16 L158.28 93.54 L158.44 92.94 L158.61 92.35 L158.77 91.77 L158.94 91.19 L159.10 90.63 L159.26 90.08 L159.43 89.54 L159.59 89.01 L159.76 88.48 L159.92 87.97 L160.09 87.47 L160.25 86.97 L160.42 86.49 L160.58 86.01 L160.74 85.55 L160.91 85.09 L161.07 84.64 L161.24 84.20 L161.40 83.77 L161.57 83.34 L161.73 82.93 L161.89 82.52 L162.06 82.12 L162.22 81.73 L162.39 81.35 L162.55 80.97 L162.72 80.61 L162.88 80.25 L163.04 79.90 L163.21 79.55 L163.37 79.22 L163.54 78.89 L163.70 78.56 L163.87 78.25 L164.03 77.94 L164.19 77.64 L164.36 77.35 L164.52 77.06 L164.69 76.78 L164.85 76.51 L165.02 76.24 L165.18 75.98 L165.34 75.73 L165.51 75.49 L165.67 75.24 L165.84 75.01 L166.00 74.78 L166.17 74.56 L166.33 74.35 L166.49 74.14 L166.66 73.93 L166.82 73.74 L166.99 73.55 L167.15 73.36 L167.32 73.18 L167.48 73.01 L167.65 72.84 L167.81 72.67 L167.97 72.52 L168.14 72.36 L168.30 72.22 L168.47 72.08 L168.63 71.94 L168.80 71.81 L168.96 71.68 L169.12 71.56 L169.29 71.45 L169.45 71.33 L169.62 71.23 L169.78 71.13 L169.95 71.03 L170.11 70.94 L170.27 70.85 L170.44 70.77 L170.60 70.69 L170.77 70.62 L170.93 70.55 L171.10 70.49 L171.26 70.43 L171.42 70.37 L171.59 70.32 L171.75 70.27 L171.92 70.23 L172.08 70.19 L172.25 70.16 L172.41 70.13 L172.57 70.10 L172.74 70.08 L172.90 70.06 L173.07 70.04 L173.23 70.03 L173.40 70.03 L173.56 70.02 L173.72 70.02 L173.89 70.03 L174.05 70.04 L174.22 70.05 L174.38 70.06 L174.55 70.08 L174.71 70.11 L174.87 70.13 L175.04 70.16 L175.20 70.19 L175.37 70.23 L175.53 70.27 L175.70 70.31 L175.86 70.36 L176.03 70.41 L176.19 70.46 L176.35 70.51 L176.52 70.57 L176.68 70.64 L176.85 70.70 L177.01 70.77 L177.18 70.84 L177.34 70.91 L177.50 70.99 L177.67 71.07 L177.83 71.15 L178.00 71.24 L178.16 71.33 L178.33 71.42 L178.49 71.51 L178.65 71.61 L178.82 71.71 L178.98 71.81 L179.15 71.91 L179.31 72.02 L179.48 72.13 L179.64 72.24 L179.80 72.36 L179.97 72.47 L180.13 72.59 L180.30 72.71 L180.46 72.84 L180.63 72.97 L180.79 73.09 L180.95 73.23 L181.12 73.36 L181.28 73.50 L181.45 73.64 L181.61 73.78 L181.78 73.92 L181.94 74.06 L182.10 74.21 L182.27 74.36 L182.43 74.51 L182.60 74.67 L182.76 74.82 L182.93 74.98 L183.09 75.14 L183.25 75.30 L183.42 75.47 L183.58 75.63 L183.75 75.80 L183.91 75.97 L184.08 76.14 L184.24 76.32 L184.41 76.49 L184.57 76.67 L184.73 76.85 L184.90 77.03 L185.06 77.22 L185.23 77.40 L185.39 77.59 L185.56 77.78 L185.72 77.97 L185.88 78.17 L186.05 78.39 L186.21 78.60 L186.38 78.81 L186.54 79.03 L186.71 79.24 L186.87 79.46 L187.03 79.68 L187.20 79.91 L187.36 80.13 L187.53 80.36 L187.69 80.58 L187.86 80.81 L188.02 81.04 L188.18 81.28 L188.35 81.51 L188.51 81.74 L188.68 81.98 L188.84 82.22 L189.01 82.46 L189.17 82.70 L189.33 82.94 L189.50 83.19 L189.66 83.43 L189.83 83.68 L189.99 83.93 L190.16 84.17 L190.32 84.43 L190.48 84.68 L190.65 84.93 L190.81 85.19 L190.98 85.44 L191.14 85.70 L191.31 85.96 L191.47 86.22 L191.64 86.48 L191.80 86.74 L191.96 87.00 L192.13 87.27 L192.29 87.53 L192.46 87.80 L192.62 88.07 L192.79 88.34 L192.95 88.61 L193.11 88.88 L193.28 89.15 L193.44 89.42 L193.61 89.70 L193.77 89.97 L193.94 90.25 L194.10 90.53 L194.26 90.81 L194.43 91.09 L194.59 91.37 L194.76 91.65 L194.92 91.93 L195.09 92.22 L195.25 92.50 L195.41 92.79 L195.58 93.08 L195.74 93.36 L195.91 93.65 L196.07 93.94 L196.24 94.23 L196.40 94.52 L196.56 94.81 L196.73 95.11 L196.89 95.40 L197.06 95.70 L197.22 95.99 L197.39 96.29 L197.55 96.59 L197.71 96.88 L197.88 97.18 L198.04 97.48 L198.21 97.78 L198.37 98.08 L198.54 98.38 L198.70 98.69 L198.86 98.99 L199.03 99.29 L199.19 99.60 L199.36 99.91 L199.52 100.21 L199.69 100.52 L199.85 100.83 L200.02 101.13 L200.18 101.44 L200.34 101.75 L200.51 102.06 L200.67 102.37 L200.84 102.69 L201.00 103.00 L201.17 103.31 L201.33 103.62 L201.49 103.94 L201.66 104.25 L201.82 104.57 L201.99 104.88 L202.15 105.20 L202.32 105.52 L202.48 105.84 L202.64 106.16 L202.81 106.48 L202.97 106.80 L203.14 107.12 L203.30 107.44 L203.47 107.77 L203.63 108.09 L203.79 108.42 L203.96 108.74 L204.12 109.07 L204.29 109.40 L204.45 109.72 L204.62 110.05 L204.78 110.38 L204.94 110.71 L205.11 111.04 L205.27 111.37 L205.44 111.70 L205.60 112.03 L205.77 112.36 L205.93 112.69 L206.09 113.03 L206.26 113.36 L206.42 113.69 L206.59 114.03 L206.75 114.36 L206.92 114.70 L207.08 115.03 L207.24 115.36 L207.41 115.70 L207.57 116.03 L207.74 116.37 L207.90 116.70 L208.07 117.04 L208.23 117.38 L208.40 117.71 L208.56 118.05 L208.72 118.38 L208.89 118.72 L209.05 119.05 L209.22 119.39 L209.38 119.73 L209.55 120.06 L209.71 120.40 L209.87 120.73 L210.04 121.07 L210.20 121.40 L210.37 121.74 L210.53 122.07 L210.70 122.41 L210.86 122.74 L211.02 123.08 L211.19 123.41 L211.35 123.74 L211.52 124.08 L211.68 124.41 L211.85 124.74 L212.01 125.07 L212.17 125.41 L212.34 125.74 L212.50 126.07 L212.67 126.40 L212.83 126.73 L213.00 127.07 L213.16 127.40 L213.32 127.73 L213.49 128.07 L213.65 128.40 L213.82 128.73 L213.98 129.07 L214.15 129.40 L214.31 129.74 L214.47 130.07 L214.64 130.40 L214.80 130.74 L214.97 131.07 L215.13 131.41 L215.30 131.74 L215.46 132.08 L215.63 132.41 L215.79 132.75 L215.95 133.08 L216.12 133.41 L216.28 133.75 L216.45 134.08 L216.61 134.42 L216.78 134.75 L216.94 135.08 L217.10 135.42 L217.27 135.75 L217.43 136.08 L217.60 136.42 L217.76 136.75 L217.93 137.08 L218.09 137.41 L218.25 137.74 L218.42 138.08 L218.58 138.41 L218.75 138.74 L218.91 139.07 L219.08 139.40 L219.24 139.73 L219.40 140.06 L219.57 140.38 L219.73 140.71 L219.90 141.04 L220.06 141.37 L220.23 141.69 L220.39 142.02 L220.55 142.35 L220.72 142.67 L220.88 143.00 L221.05 143.32 L221.21 143.64 L221.38 143.97 L221.54 144.29 L221.70 144.61 L221.87 144.93 L222.03 145.25 L222.20 145.57 L222.36 145.89 L222.53 146.21 L222.69 146.53 L222.85 146.84 L223.02 147.16 L223.18 147.48 L223.35 147.80 L223.51 148.12 L223.68 148.43 L223.84 148.75 L224.01 149.07 L224.17 149.38 L224.33 149.70 L224.50 150.02 L224.66 150.34 L224.83 150.65 L224.99 150.97 L225.16 151.29 L225.32 151.60 L225.48 151.92 L225.65 152.23 L225.81 152.55 L225.98 152.87 L226.14 153.18 L226.31 153.50 L226.47 153.81 L226.63 154.13 L226.80 154.45 L226.96 154.76 L227.13 155.08 L227.29 155.39 L227.46 155.71 L227.62 156.02 L227.78 156.34 L227.95 156.65 L228.11 156.96 L228.28 157.28 L228.44 157.59 L228.61 157.91 L228.77 158.22 L228.93 158.54 L229.10 158.85 L229.26 159.16 L229.43 159.48 L229.59 159.79 L229.76 160.10 L229.92 160.41 L230.08 160.73 L230.25 161.04 L230.41 161.35 L230.58 161.66 L230.74 161.98 L230.91 162.29 L231.07 162.60 L231.23 162.91 L231.40 163.22 L231.56 163.53 L231.73 163.85 L231.89 164.16 L232.06 164.47 L232.22 164.78 L232.39 165.09 L232.55 165.40 L232.71 165.71 L232.88 166.02 L233.04 166.33 L233.21 166.64 L233.37 166.95 L233.54 167.25 L233.70 167.56 L233.86 167.87 L234.03 168.18 L234.19 168.49 L234.36 168.80 L234.52 169.10 L234.69 169.41 L234.85 169.72 L235.01 170.03 L235.18 170.33 L235.34 170.64 L235.51 170.95 L235.67 171.25 L235.84 171.56 L236.00 171.86 L236.16 172.17 L236.33 172.47 L236.49 172.78 L236.66 173.08 L236.82 173.38 L236.99 173.69 L237.15 173.99 L237.31 174.29 L237.48 174.60 L237.64 174.90 L237.81 175.20 L237.97 175.50 L238.14 175.80 L238.30 176.10 L238.46 176.40 L238.63 176.70 L238.79 177.00 L238.96 177.30 L239.12 177.60 L239.29 177.90 L239.45 178.20 L239.62 178.50 L239.78 178.80 L239.94 179.10 L240.11 179.39 L240.27 179.69 L240.44 179.99 L240.60 180.29 L240.77 180.58 L240.93 180.88 L241.09 181.18 L241.26 181.47 L241.42 181.77 L241.59 182.06 L241.75 182.36 L241.92 182.65 L242.08 182.95 L242.24 183.24 L242.41 183.54 L242.57 183.83 L242.74 184.12 L242.90 184.42 L243.07 184.71 L243.23 185.00 L243.39 185.30 L243.56 185.59 L243.72 185.88 L243.89 186.17 L244.05 186.47 L244.22 186.76 L244.38 187.05 L244.54 187.34 L244.71 187.63 L244.87 187.92 L245.04 188.21 L245.20 188.50 L245.37 188.79 L245.53 189.08 L245.69 189.37 L245.86 189.66 L246.02 189.95 L246.19 190.24 L246.35 190.53 L246.52 190.82 L246.68 191.10 L246.84 191.39 L247.01 191.68 L247.17 191.97 L247.34 192.25 L247.50 192.54 L247.67 192.83 L247.83 193.11 L248.00 193.40 L248.16 193.68 L248.32 193.97 L248.49 194.25 L248.65 194.54 L248.82 194.82 L248.98 195.11 L249.15 195.39 L249.31 195.67 L249.47 195.96 L249.64 196.24 L249.80 196.52 L249.97 196.80 L250.13 197.09 L250.30 197.37 L250.46 197.65 L250.62 197.93 L250.79 198.21 L250.95 198.49 L251.12 198.77 L251.28 199.05 L251.45 199.33 L251.61 199.61 L251.77 199.89 L251.94 200.17 L252.10 200.45 L252.27 200.73 L252.43 201.01 L252.60 201.28 L252.76 201.56 L252.92 201.84 L253.09 202.11 L253.25 202.39 L253.42 202.67 L253.58 202.94 L253.75 203.22 L253.91 203.50 L254.07 203.77 L254.24 204.05 L254.40 204.32 L254.57 204.59 L254.73 204.87 L254.90 205.14 L255.06 205.42 L255.22 205.69 L255.39 205.96 L255.55 206.23 L255.72 206.51 L255.88 206.78 L256.05 207.05 L256.21 207.32 L256.38 207.59 L256.54 207.86 L256.70 208.13 L256.87 208.40 L257.03 208.67 L257.20 208.94 L257.36 209.21 L257.53 209.48 L257.69 209.75 L257.85 210.02 L258.02 210.29 L258.18 210.56 L258.35 210.82 L258.51 211.09 L258.68 211.36 L258.84 211.62 L259.00 211.89 L259.17 212.16 L259.33 212.42 L259.50 212.69 L259.66 212.95 L259.83 213.22 L259.99 213.48 L260.15 213.75 L260.32 214.01 L260.48 214.27 L260.65 214.54 L260.81 214.80 L260.98 215.06 L261.14 215.33 L261.30 215.59 L261.47 215.85 L261.63 216.11 L261.80 216.37 L261.96 216.64 L262.13 216.90 L262.29 217.16 L262.45 217.42 L262.62 217.68 L262.78 217.94 L262.95 218.20 L263.11 218.46 L263.28 218.71 L263.44 218.97 L263.61 219.23 L263.77 219.49 L263.93 219.75 L264.10 220.00 L264.26 220.26 L264.43 220.52 L264.59 220.77 L264.76 221.03 L264.92 221.29 L265.08 221.54 L265.25 221.80 L265.41 222.05 L265.58 222.31 L265.74 222.56 L265.91 222.82 L266.07 223.07 L266.23 223.32 L266.40 223.58 L266.56 223.83 L266.73 224.08 L266.89 224.33 L267.06 224.59 L267.22 224.84 L267.38 225.09 L267.55 225.34 L267.71 225.59 L267.88 225.84 L268.04 226.09 L268.21 226.34 L268.37 226.59 L268.53 226.84 L268.70 227.09 L268.86 227.34 L269.03 227.59 L269.19 227.84 L269.36 228.08 L269.52 228.33 L269.68 228.58 L269.85 228.83 L270.01 229.07 L270.18 229.32 L270.34 229.56 L270.51 229.81 L270.67 230.06 L270.83 230.30 L271.00 230.55 L271.16 230.79 L271.33 231.04 L271.49 231.28 L271.66 231.52 L271.82 231.77 L271.99 232.01 L272.15 232.25 L272.31 232.49 L272.48 232.74 L272.64 232.98 L272.81 233.22 L272.97 233.46 L273.14 233.70 L273.30 233.94 L273.46 234.18 L273.63 234.42 L273.79 234.66 L273.96 234.90 L274.12 235.14 L274.29 235.38 L274.45 235.62 L274.61 235.86 L274.78 236.10 L274.94 236.33 L275.11 236.57 L275.27 236.81 L275.44 237.05 L275.60 237.28 L278.28 241.09 L280.95 244.83 L283.63 248.48 L286.31 252.06 L288.98 255.56 L291.66 258.98 L294.34 262.33 L297.02 265.61 L299.69 268.82 L302.37 271.96 L305.05 275.04 L307.72 278.05 L310.40 281.00 L313.08 283.89 L315.75 286.71 L318.43 289.48 L321.11 292.18 L323.78 294.83 L326.46 297.42 L329.14 299.95 L331.81 302.43 L334.49 304.86 L337.17 307.23 L339.85 309.55 L342.52 311.82 L345.20 314.05 L347.88 316.22 L350.55 318.35 L353.23 320.42 L355.91 322.46 L358.58 324.45 L361.26 326.40 L363.94 328.30 L366.61 330.17 L369.29 332.01 L371.97 333.80 L374.64 335.57 L377.32 337.30 L380.00 339.00 L382.68 340.67 L385.35 342.30 L388.03 343.90 L390.71 345.48 L393.38 347.02 L396.06 348.53 L398.74 350.02 L401.41 351.47 L404.09 352.90 L406.77 354.30 L409.44 355.68 L412.12 357.03 L414.80 358.36 L417.47 359.66 L420.15 360.93 L422.83 362.19 L425.51 363.42 L428.18 364.62 L430.86 365.81 L433.54 366.97 L436.21 368.12 L438.89 369.24 L441.57 370.34 L444.24 371.43 L446.92 372.49 L449.60 373.54 L452.27 374.57 L454.95 375.58 L457.63 376.57 L460.31 377.55 L462.98 378.53 L465.66 379.48 L468.34 380.43 L471.01 381.35 L473.69 382.26 L476.37 383.16 L479.04 384.04 L481.72 384.90 L484.40 385.75 L487.07 386.59 L489.75 387.41 L492.43 388.22 L495.10 389.02 L497.78 389.80 L500.46 390.57 L503.14 391.33 L505.81 392.08 L508.49 392.81 L511.17 393.53 L513.84 394.25 L516.52 394.95 L519.20 395.64 L521.87 396.32 L524.55 396.98 L527.23 397.64 L529.90 398.29 L532.58 398.93 L535.26 399.56 L537.93 400.18 L540.61 400.79 L543.29 401.39 L545.97 401.98 L548.64 402.57 L551.32 403.14 L554.00 403.71 L556.67 404.27 L559.35 404.82 L562.03 405.36 L564.70 405.89 L567.38 406.42 L570.06 406.94 L572.73 407.45 L575.41 407.96 L578.09 408.45 L580.76 408.95 L583.44 409.43 L586.12 409.91 L588.80 410.38 L591.47 410.84 L594.15 411.30 L596.83 411.75 L599.50 412.20 L602.18 412.64 L604.86 413.07 L607.53 413.50 L610.21 413.92 L612.89 414.34 L615.56 414.75 L618.24 415.16 L620.92 415.56 L623.59 415.96 L626.27 416.35 L628.95 416.73 L631.63 417.11 L634.30 417.49 L636.98 417.86 L639.66 418.23 L642.33 418.60 L645.01 418.97 L647.69 419.33 L650.36 419.69 L653.04 420.05 L655.72 420.40 L658.39 420.74 L661.07 421.09 L663.75 421.42 L666.43 421.76 L669.10 422.09 L671.78 422.42 L674.46 422.74 L677.13 423.06 L679.81 423.38 L682.49 423.69 L685.16 424.00 L687.84 424.30 L690.52 424.60 L693.19 424.90 L695.87 425.20 L698.55 425.49 L701.22 425.78 L703.90 426.06 L706.58 426.35 L709.26 426.63 L711.93 426.90 L714.61 427.18 L717.29 427.45 L719.96 427.71 L722.64 427.98 L725.32 428.24 L727.99 428.50 L730.67 428.75 L733.35 429.01 L736.02 429.26 L738.70 429.51 L741.38 429.75 L744.05 430.00 L746.73 430.24 L749.41 430.48 L752.09 430.71 L754.76 430.94 L757.44 431.18 L760.12 431.40 L762.79 431.63 L765.47 431.86 L768.15 432.08 L770.82 432.30 L773.50 432.52 L776.18 432.73 L778.85 432.94 L781.53 433.16 L784.21 433.36 L786.88 433.57 L789.56 433.78 L792.24 433.98 L794.92 434.18 L797.59 434.38 L800.27 434.58 L802.95 434.78 L805.62 434.97 L808.30 435.16" stroke="#000000" stroke-width="3.8" stroke-linecap="square"/>
<path d="M152.96 493.34 L153.10 491.04 L153.24 488.75 L153.38 486.47 L153.52 484.20 L153.66 481.94 L153.80 479.69 L153.94 477.46 L154.08 475.23 L154.22 473.01 L154.36 470.81 L154.49 468.62 L154.63 466.43 L154.77 464.26 L154.91 462.11 L155.05 459.96 L155.19 457.82 L155.33 455.70 L155.47 453.59 L155.61 451.49 L155.75 449.40 L155.88 447.33 L156.02 445.26 L156.16 443.21 L156.30 441.17 L156.44 439.15 L156.58 437.13 L156.72 435.13 L156.86 433.14 L157.00 431.17 L157.14 429.21 L157.28 427.25 L157.41 425.32 L157.55 423.39 L157.69 421.48 L157.83 419.58 L157.97 417.69 L158.11 415.81 L158.25 413.95 L158.39 412.10 L158.53 410.26 L158.67 408.44 L158.80 406.63 L158.94 404.83 L159.08 403.04 L159.22 401.26 L159.36 399.50 L159.50 397.75 L159.64 396.02 L159.78 394.29 L159.92 392.58 L160.06 390.88 L160.20 389.19 L160.33 387.52 L160.47 385.86 L160.61 384.21 L160.75 382.57 L160.89 380.94 L161.03 379.33 L161.17 377.73 L161.31 376.14 L161.45 374.56 L161.59 373.00 L161.72 371.44 L161.86 369.90 L162.00 368.37 L162.14 366.85 L162.28 365.35 L162.42 363.85 L162.56 362.37 L162.70 360.90 L162.84 359.44 L162.98 357.99 L163.11 356.56 L163.25 355.13 L163.39 353.72 L163.53 352.31 L163.67 350.92 L163.81 349.54 L163.95 348.17 L164.09 346.82 L164.23 345.47 L164.37 344.13 L164.51 342.81 L164.64 341.49 L164.78 340.19 L164.92 338.90 L165.06 337.61 L165.20 336.34 L165.34 335.08 L165.48 333.83 L165.62 332.59 L165.76 331.36 L165.90 330.14 L166.03 328.93 L166.17 327.73 L166.31 326.54 L166.45 325.36 L166.59 324.19 L166.73 323.03 L166.87 321.88 L167.01 320.74 L167.15 319.61 L167.29 318.48 L167.43 317.37 L167.56 316.27 L167.70 315.18 L167.84 314.09 L167.98 313.02 L168.12 311.95 L168.26 310.90 L168.40 309.85 L168.54 308.81 L168.68 307.78 L168.82 306.76 L168.95 305.75 L169.09 304.75 L169.23 303.76 L169.37 302.77 L169.51 301.80 L169.65 300.83 L169.79 299.87 L169.93 298.92 L170.07 297.98 L170.21 297.04 L170.35 296.12 L170.48 295.20 L170.62 294.29 L170.76 293.39 L170.90 292.49 L171.04 291.61 L171.18 290.73 L171.32 289.86 L171.46 289.00 L171.60 288.14 L171.74 287.30 L171.87 286.46 L172.01 285.63 L172.15 284.80 L172.29 283.98 L172.43 283.17 L172.57 282.37 L172.71 281.58 L172.85 280.79 L172.99 280.01 L173.13 279.24 L173.27 278.47 L173.40 277.71 L173.54 276.96 L173.68 276.21 L173.82 275.47 L173.96 274.74 L174.10 274.02 L174.24 273.30 L174.38 272.59 L174.52 271.88 L174.66 271.18 L174.79 270.49 L174.93 269.80 L175.07 269.12 L175.21 268.45 L175.35 267.78 L175.49 267.12 L175.63 266.47 L175.77 265.82 L175.91 265.18 L176.05 264.54 L176.18 263.91 L176.32 263.28 L176.46 262.66 L176.60 262.05 L176.74 261.44 L176.88 260.84 L177.02 260.25 L177.16 259.66 L177.30 259.07 L177.44 258.49 L177.58 257.92 L177.71 257.35 L177.85 256.79 L177.99 256.23 L178.13 255.68 L178.27 255.14 L178.41 254.60 L178.55 254.06 L178.69 253.53 L178.83 253.00 L178.97 252.48 L179.10 251.97 L179.24 251.46 L179.38 250.95 L179.52 250.45 L179.66 249.96 L179.80 249.47 L179.94 248.98 L180.08 248.50 L180.22 248.02 L180.36 247.55 L180.50 247.08 L180.63 246.62 L180.77 246.16 L180.91 245.71 L181.05 245.26 L181.19 244.82 L181.33 244.38 L181.47 243.94 L181.61 243.51 L181.75 243.09 L181.89 242.66 L182.02 242.25 L182.16 241.83 L182.30 241.42 L182.44 241.02 L182.58 240.62 L182.72 240.22 L182.86 239.83 L183.00 239.44 L183.14 239.05 L183.28 238.67 L183.42 238.29 L183.55 237.92 L183.69 237.55 L183.83 237.19 L183.97 236.83 L184.11 236.47 L184.25 236.11 L184.39 235.76 L184.53 235.42 L184.67 235.08 L184.81 234.74 L184.94 234.40 L185.08 234.07 L185.22 233.74 L185.36 233.42 L185.50 233.09 L185.64 232.78 L185.78 232.46 L185.92 232.15 L186.06 231.84 L186.20 231.54 L186.33 231.24 L186.47 230.94 L186.61 230.65 L186.75 230.36 L186.89 230.07 L187.03 229.78 L187.17 229.50 L187.31 229.23 L187.45 228.95 L187.59 228.68 L187.73 228.41 L187.86 228.14 L188.00 227.88 L188.14 227.62 L188.28 227.37 L188.42 227.11 L188.56 226.86 L188.70 226.61 L188.84 226.37 L188.98 226.13 L189.12 225.89 L189.25 225.65 L189.39 225.42 L189.53 225.19 L189.67 224.96 L189.81 224.73 L189.95 224.51 L190.09 224.29 L190.23 224.08 L190.37 223.86 L190.51 223.65 L190.65 223.44 L190.78 223.23 L190.92 223.03 L191.06 222.83 L191.20 222.63 L191.34 222.43 L191.48 222.24 L191.62 222.05 L191.76 221.86 L191.90 221.68 L192.04 221.49 L192.17 221.31 L192.31 221.13 L192.45 220.95 L192.59 220.78 L192.73 220.61 L192.87 220.44 L193.01 220.27 L193.15 220.11 L193.29 219.94 L193.43 219.78 L193.57 219.63 L193.70 219.47 L193.84 219.32 L193.98 219.16 L194.12 219.01 L194.26 218.87 L194.40 218.72 L194.54 218.58 L194.68 218.44 L194.82 218.30 L194.96 218.16 L195.09 218.03 L195.23 217.90 L195.37 217.76 L195.51 217.64 L195.65 217.51 L195.79 217.38 L195.93 217.26 L196.07 217.14 L196.21 217.02 L196.35 216.91 L196.49 216.79 L196.62 216.68 L196.76 216.57 L196.90 216.46 L197.04 216.35 L197.18 216.24 L197.32 216.14 L197.46 216.04 L197.60 215.94 L197.74 215.84 L197.88 215.74 L198.01 215.65 L198.15 215.56 L198.29 215.46 L198.43 215.38 L198.57 215.29 L198.71 215.20 L198.85 215.12 L198.99 215.03 L199.13 214.95 L199.27 214.87 L199.40 214.80 L199.54 214.72 L199.68 214.64 L199.82 214.57 L199.96 214.50 L200.10 214.43 L200.24 214.36 L200.38 214.30 L200.52 214.23 L200.66 214.17 L200.80 214.10 L200.93 214.04 L201.07 213.98 L201.21 213.93 L201.35 213.87 L201.49 213.82 L201.63 213.76 L201.77 213.71 L201.91 213.66 L202.05 213.61 L202.19 213.56 L202.32 213.52 L202.46 213.47 L202.60 213.43 L202.74 213.39 L202.88 213.35 L203.02 213.31 L203.16 213.27 L203.30 213.23 L203.44 213.20 L203.58 213.16 L203.72 213.13 L203.85 213.10 L203.99 213.07 L204.13 213.04 L204.27 213.01 L204.41 212.99 L204.55 212.96 L204.69 212.94 L204.83 212.92 L204.97 212.90 L205.11 212.88 L205.24 212.86 L205.38 212.84 L205.52 212.82 L205.66 212.81 L205.80 212.79 L205.94 212.78 L206.08 212.77 L206.22 212.76 L206.36 212.75 L206.50 212.74 L206.64 212.73 L206.77 212.73 L206.91 212.72 L207.05 212.72 L207.19 212.72 L207.33 212.71 L207.47 212.71 L207.61 212.71 L207.75 212.72 L207.89 212.72 L208.03 212.72 L208.16 212.73 L208.30 212.73 L208.44 212.74 L208.58 212.75 L208.72 212.76 L208.86 212.77 L209.00 212.78 L209.14 212.79 L209.28 212.80 L209.42 212.81 L209.56 212.83 L209.69 212.84 L209.83 212.86 L209.97 212.88 L210.11 212.90 L210.25 212.92 L210.39 212.94 L210.53 212.96 L210.67 212.98 L210.81 213.00 L210.95 213.03 L211.08 213.05 L211.22 213.08 L211.36 213.11 L211.50 213.13 L211.64 213.16 L211.78 213.19 L211.92 213.22 L212.06 213.25 L212.20 213.29 L212.34 213.32 L212.47 213.35 L212.61 213.39 L212.75 213.42 L212.89 213.46 L213.03 213.49 L213.17 213.53 L213.31 213.57 L213.45 213.61 L213.59 213.65 L213.73 213.69 L213.87 213.73 L214.00 213.78 L214.14 213.82 L214.28 213.86 L214.42 213.91 L214.56 213.95 L214.70 214.00 L214.84 214.05 L214.98 214.10 L215.12 214.15 L215.26 214.20 L215.39 214.25 L215.53 214.30 L215.67 214.36 L215.81 214.41 L215.95 214.47 L216.09 214.52 L216.23 214.58 L216.37 214.64 L216.51 214.69 L216.65 214.75 L216.79 214.81 L216.92 214.87 L217.06 214.93 L217.20 215.00 L217.34 215.06 L217.48 215.12 L217.62 215.18 L217.76 215.25 L217.90 215.31 L218.04 215.38 L218.18 215.45 L218.31 215.51 L218.45 215.58 L218.59 215.65 L218.73 215.72 L218.87 215.79 L219.01 215.86 L219.15 215.93 L219.29 216.00 L219.43 216.07 L219.57 216.14 L219.71 216.22 L219.84 216.29 L219.98 216.36 L220.12 216.44 L220.26 216.51 L220.40 216.59 L220.54 216.67 L220.68 216.74 L220.82 216.82 L220.96 216.90 L221.10 216.98 L221.23 217.06 L221.37 217.14 L221.51 217.22 L221.65 217.30 L221.79 217.38 L221.93 217.47 L222.07 217.55 L222.21 217.63 L222.35 217.72 L222.49 217.80 L222.62 217.88 L222.76 217.97 L222.90 218.06 L223.04 218.14 L223.18 218.23 L223.32 218.32 L223.46 218.41 L223.60 218.49 L223.74 218.58 L223.88 218.67 L224.02 218.76 L224.15 218.85 L224.29 218.94 L224.43 219.03 L224.57 219.13 L224.71 219.22 L224.85 219.31 L224.99 219.40 L225.13 219.50 L225.27 219.59 L225.41 219.69 L225.54 219.78 L225.68 219.88 L225.82 219.97 L225.96 220.07 L226.10 220.17 L226.24 220.26 L226.38 220.36 L226.52 220.46 L226.66 220.56 L226.80 220.66 L226.94 220.76 L227.07 220.86 L227.21 220.96 L227.35 221.06 L227.49 221.16 L227.63 221.26 L227.77 221.36 L227.91 221.46 L228.05 221.57 L228.19 221.67 L228.33 221.77 L228.46 221.88 L228.60 221.98 L228.74 222.09 L228.88 222.19 L229.02 222.30 L229.16 222.40 L229.30 222.51 L229.44 222.61 L229.58 222.72 L229.72 222.83 L229.86 222.94 L229.99 223.04 L230.13 223.15 L230.27 223.26 L230.41 223.37 L230.55 223.48 L230.69 223.59 L230.83 223.70 L230.97 223.81 L231.11 223.92 L231.25 224.03 L231.38 224.14 L231.52 224.25 L231.66 224.37 L231.80 224.48 L231.94 224.59 L232.08 224.70 L232.22 224.82 L232.36 224.93 L232.50 225.04 L232.64 225.16 L232.78 225.27 L232.91 225.39 L233.05 225.50 L233.19 225.62 L233.33 225.73 L233.47 225.85 L233.61 225.97 L233.75 226.08 L233.89 226.20 L234.03 226.32 L234.17 226.43 L234.30 226.55 L234.44 226.67 L234.58 226.79 L234.72 226.91 L234.86 227.03 L235.00 227.15 L235.14 227.26 L235.28 227.38 L235.42 227.50 L235.56 227.63 L235.69 227.75 L235.83 227.87 L235.97 227.99 L236.11 228.11 L236.25 228.23 L236.39 228.36 L236.53 228.48 L236.67 228.60 L236.81 228.72 L236.95 228.85 L237.09 228.97 L237.22 229.10 L237.36 229.22 L237.50 229.35 L237.64 229.47 L237.78 229.60 L237.92 229.72 L238.06 229.85 L238.20 229.98 L238.34 230.10 L238.48 230.23 L238.61 230.36 L238.75 230.48 L238.89 230.61 L239.03 230.74 L239.17 230.87 L239.31 231.00 L239.45 231.13 L239.59 231.26 L239.73 231.39 L239.87 231.51 L240.01 231.64 L240.14 231.77 L240.28 231.91 L240.42 232.04 L240.56 232.17 L240.70 232.30 L240.84 232.43 L240.98 232.56 L241.12 232.69 L241.26 232.82 L241.40 232.96 L241.53 233.09 L241.67 233.22 L241.81 233.35 L241.95 233.49 L242.09 233.62 L242.23 233.75 L242.37 233.89 L242.51 234.02 L242.65 234.15 L242.79 234.29 L242.93 234.42 L243.06 234.56 L243.20 234.69 L243.34 234.83 L243.48 234.96 L243.62 235.09 L243.76 235.23 L243.90 235.37 L244.04 235.50 L244.18 235.64 L244.32 235.77 L244.45 235.91 L244.59 236.04 L244.73 236.18 L244.87 236.32 L245.01 236.45 L245.15 236.59 L245.29 236.73 L245.43 236.86 L245.57 237.00 L245.71 237.14 L245.84 237.27 L245.98 237.41 L246.12 237.55 L246.26 237.69 L246.40 237.82 L246.54 237.96 L246.68 238.10 L246.82 238.24 L246.96 238.37 L247.10 238.51 L247.24 238.65 L247.37 238.79 L247.51 238.93 L247.65 239.06 L247.79 239.20 L247.93 239.34 L248.07 239.48 L248.21 239.62 L248.35 239.76 L248.49 239.90 L248.63 240.03 L248.76 240.17 L248.90 240.31 L249.04 240.45 L249.18 240.59 L249.32 240.73 L249.46 240.87 L249.60 241.01 L249.74 241.15 L249.88 241.28 L250.02 241.42 L250.16 241.56 L250.29 241.70 L250.43 241.84 L250.57 241.98 L250.71 242.12 L250.85 242.26 L250.99 242.40 L251.13 242.54 L251.27 242.68 L251.41 242.82 L251.55 242.95 L251.68 243.09 L251.82 243.23 L251.96 243.37 L252.10 243.51 L252.24 243.65 L252.38 243.79 L252.52 243.93 L252.66 244.07 L252.80 244.21 L252.94 244.35 L253.08 244.48 L253.21 244.62 L253.35 244.76 L253.49 244.90 L253.63 245.04 L253.77 245.18 L253.91 245.32 L254.05 245.46 L254.19 245.59 L254.33 245.73 L254.47 245.87 L254.60 246.01 L254.74 246.15 L254.88 246.29 L255.02 246.42 L255.16 246.56 L255.30 246.70 L255.44 246.84 L255.58 246.98 L255.72 247.11 L255.86 247.25 L256.00 247.39 L256.13 247.53 L256.27 247.67 L256.41 247.80 L256.55 247.94 L256.69 248.08 L256.83 248.22 L256.97 248.35 L257.11 248.49 L257.25 248.63 L257.39 248.77 L257.52 248.91 L257.66 249.04 L257.80 249.18 L257.94 249.32 L258.08 249.46 L258.22 249.60 L258.36 249.73 L258.50 249.87 L258.64 250.01 L258.78 250.15 L258.91 250.29 L259.05 250.43 L259.19 250.56 L259.33 250.70 L259.47 250.84 L259.61 250.98 L259.75 251.12 L259.89 251.26 L260.03 251.40 L260.17 251.53 L260.31 251.67 L260.44 251.81 L260.58 251.95 L260.72 252.09 L260.86 252.23 L261.00 252.36 L261.14 252.50 L261.28 252.64 L261.42 252.78 L261.56 252.92 L261.70 253.06 L261.83 253.20 L261.97 253.34 L262.11 253.47 L262.25 253.61 L262.39 253.75 L262.53 253.89 L262.67 254.03 L262.81 254.17 L262.95 254.31 L263.09 254.44 L263.23 254.58 L263.36 254.72 L263.50 254.86 L263.64 255.00 L263.78 255.14 L263.92 255.28 L264.06 255.41 L264.20 255.55 L264.34 255.69 L264.48 255.83 L264.62 255.97 L264.75 256.11 L264.89 256.25 L265.03 256.39 L265.17 256.52 L265.31 256.66 L265.45 256.80 L265.59 256.94 L265.73 257.08 L265.87 257.22 L266.01 257.35 L266.15 257.49 L266.28 257.63 L266.42 257.77 L266.56 257.91 L266.70 258.05 L266.84 258.19 L266.98 258.32 L267.12 258.46 L267.26 258.60 L267.40 258.74 L267.54 258.88 L267.67 259.01 L267.81 259.15 L267.95 259.29 L268.09 259.43 L268.23 259.57 L268.37 259.71 L268.51 259.84 L268.65 259.98 L268.79 260.12 L268.93 260.26 L269.07 260.40 L269.20 260.53 L269.34 260.67 L269.48 260.81 L269.62 260.95 L269.76 261.08 L269.90 261.22 L270.04 261.36 L270.18 261.50 L270.32 261.63 L270.46 261.77 L270.59 261.91 L270.73 262.05 L270.87 262.18 L271.01 262.32 L271.15 262.46 L271.29 262.60 L271.43 262.73 L271.57 262.87 L271.71 263.01 L271.85 263.15 L271.98 263.28 L272.12 263.42 L272.26 263.56 L272.40 263.69 L272.54 263.83 L272.68 263.97 L272.82 264.10 L272.96 264.24 L273.10 264.38 L273.24 264.51 L273.38 264.65 L273.51 264.78 L273.65 264.92 L273.79 265.05 L273.93 265.19 L274.07 265.32 L274.21 265.46 L274.35 265.59 L274.49 265.73 L274.63 265.86 L274.77 266.00 L274.90 266.13 L275.04 266.27 L275.18 266.40 L275.32 266.54 L275.46 266.67 L275.60 266.80 L278.28 269.36 L280.95 271.88 L283.63 274.37 L286.31 276.83 L288.98 279.27 L291.66 281.69 L294.34 284.10 L297.02 286.50 L299.69 288.91 L302.37 291.31 L305.05 293.69 L307.72 296.05 L310.40 298.37 L313.08 300.67 L315.75 302.93 L318.43 305.15 L321.11 307.34 L323.78 309.48 L326.46 311.57 L329.14 313.62 L331.81 315.62 L334.49 317.58 L337.17 319.51 L339.85 321.39 L342.52 323.25 L345.20 325.07 L347.88 326.86 L350.55 328.61 L353.23 330.32 L355.91 331.99 L358.58 333.63 L361.26 335.24 L363.94 336.82 L366.61 338.38 L369.29 339.92 L371.97 341.43 L374.64 342.92 L377.32 344.37 L380.00 345.80 L382.68 347.20 L385.35 348.58 L388.03 349.94 L390.71 351.29 L393.38 352.62 L396.06 353.95 L398.74 355.27 L401.41 356.58 L404.09 357.87 L406.77 359.15 L409.44 360.40 L412.12 361.64 L414.80 362.86 L417.47 364.06 L420.15 365.24 L422.83 366.40 L425.51 367.54 L428.18 368.66 L430.86 369.77 L433.54 370.86 L436.21 371.93 L438.89 372.98 L441.57 374.01 L444.24 375.03 L446.92 376.03 L449.60 377.02 L452.27 377.99 L454.95 378.95 L457.63 379.89 L460.31 380.82 L462.98 381.74 L465.66 382.64 L468.34 383.53 L471.01 384.40 L473.69 385.26 L476.37 386.11 L479.04 386.94 L481.72 387.76 L484.40 388.57 L487.07 389.36 L489.75 390.14 L492.43 390.91 L495.10 391.67 L497.78 392.41 L500.46 393.14 L503.14 393.86 L505.81 394.57 L508.49 395.26 L511.17 395.95 L513.84 396.63 L516.52 397.29 L519.20 397.95 L521.87 398.60 L524.55 399.23 L527.23 399.86 L529.90 400.48 L532.58 401.09 L535.26 401.69 L537.93 402.28 L540.61 402.86 L543.29 403.43 L545.97 404.00 L548.64 404.55 L551.32 405.10 L554.00 405.64 L556.67 406.18 L559.35 406.70 L562.03 407.21 L564.70 407.71 L567.38 408.21 L570.06 408.69 L572.73 409.18 L575.41 409.65 L578.09 410.12 L580.76 410.58 L583.44 411.03 L586.12 411.48 L588.80 411.93 L591.47 412.36 L594.15 412.80 L596.83 413.22 L599.50 413.64 L602.18 414.06 L604.86 414.47 L607.53 414.87 L610.21 415.27 L612.89 415.66 L615.56 416.05 L618.24 416.43 L620.92 416.81 L623.59 417.19 L626.27 417.56 L628.95 417.92 L631.63 418.28 L634.30 418.64 L636.98 418.99 L639.66 419.33 L642.33 419.69 L645.01 420.04 L647.69 420.38 L650.36 420.72 L653.04 421.06 L655.72 421.39 L658.39 421.72 L661.07 422.05 L663.75 422.37 L666.43 422.69 L669.10 423.00 L671.78 423.31 L674.46 423.62 L677.13 423.92 L679.81 424.23 L682.49 424.52 L685.16 424.82 L687.84 425.11 L690.52 425.39 L693.19 425.68 L695.87 425.96 L698.55 426.24 L701.22 426.51 L703.90 426.79 L706.58 427.06 L709.26 427.32 L711.93 427.59 L714.61 427.85 L717.29 428.10 L719.96 428.36 L722.64 428.61 L725.32 428.86 L727.99 429.11 L730.67 429.36 L733.35 429.60 L736.02 429.84 L738.70 430.08 L741.38 430.31 L744.05 430.54 L746.73 430.77 L749.41 431.00 L752.09 431.23 L754.76 431.45 L757.44 431.67 L760.12 431.89 L762.79 432.11 L765.47 432.32 L768.15 432.54 L770.82 432.75 L773.50 432.96 L776.18 433.16 L778.85 433.37 L781.53 433.57 L784.21 433.77 L786.88 433.97 L789.56 434.17 L792.24 434.36 L794.92 434.56 L797.59 434.75 L800.27 434.94 L802.95 435.13 L805.62 435.31 L808.30 435.50" stroke="#000000" stroke-width="1.4" stroke-dasharray="8.4 5.87" stroke-dashoffset="12.13"/>
</g>
<path d="M199.50 42.7v6.8M351.70 42.7v6.8M503.90 42.7v6.8M656.10 42.7v6.8M808.30 42.7v6.8M822.9 462.20h-6.9M822.9 391.15h-6.9M822.9 320.10h-6.9M822.9 249.05h-6.9M822.9 178.00h-6.9M822.9 106.95h-6.9" stroke="#b4b4b4" stroke-width="0.75" fill="none"/>
<path d="M123.40 42.7v3.0M161.45 42.7v3.0M237.55 42.7v3.0M275.60 42.7v3.0M313.65 42.7v3.0M389.75 42.7v3.0M427.80 42.7v3.0M465.85 42.7v3.0M541.95 42.7v3.0M580.00 42.7v3.0M618.05 42.7v3.0M694.15 42.7v3.0M732.20 42.7v3.0M770.25 42.7v3.0M822.9 476.41h-3.2M822.9 447.99h-3.2M822.9 433.78h-3.2M822.9 419.57h-3.2M822.9 405.36h-3.2M822.9 376.94h-3.2M822.9 362.73h-3.2M822.9 348.52h-3.2M822.9 334.31h-3.2M822.9 305.89h-3.2M822.9 291.68h-3.2M822.9 277.47h-3.2M822.9 263.26h-3.2M822.9 234.84h-3.2M822.9 220.63h-3.2M822.9 206.42h-3.2M822.9 192.21h-3.2M822.9 163.79h-3.2M822.9 149.58h-3.2M822.9 135.37h-3.2M822.9 121.16h-3.2M822.9 92.74h-3.2M822.9 78.53h-3.2M822.9 64.32h-3.2M822.9 50.11h-3.2" stroke="#9a9a9a" stroke-width="0.75" fill="none"/>
<path d="M123.40 483.8v-2.4M161.45 483.8v-2.4M199.50 483.8v-4.3M237.55 483.8v-2.4M275.60 483.8v-2.4M313.65 483.8v-2.4M351.70 483.8v-4.3M389.75 483.8v-2.4M427.80 483.8v-2.4M465.85 483.8v-2.4M503.90 483.8v-4.3M541.95 483.8v-2.4M580.00 483.8v-2.4M618.05 483.8v-2.4M656.10 483.8v-4.3M694.15 483.8v-2.4M732.20 483.8v-2.4M770.25 483.8v-2.4M808.30 483.8v-4.3M109.0 476.41h2.7M109.0 462.20h4.9M109.0 447.99h2.7M109.0 433.78h2.7M109.0 419.57h2.7M109.0 405.36h4.9M109.0 391.15h2.7M109.0 376.94h2.7M109.0 362.73h2.7M109.0 348.52h4.9M109.0 334.31h2.7M109.0 320.10h2.7M109.0 305.89h2.7M109.0 291.68h4.9M109.0 277.47h2.7M109.0 263.26h2.7M109.0 249.05h2.7M109.0 234.84h4.9M109.0 220.63h2.7M109.0 206.42h2.7M109.0 192.21h2.7M109.0 178.00h4.9M109.0 163.79h2.7M109.0 149.58h2.7M109.0 135.37h2.7M109.0 121.16h4.9M109.0 106.95h2.7M109.0 92.74h2.7M109.0 78.53h2.7M109.0 64.32h4.9M109.0 50.11h2.7" stroke="#5e5e5e" stroke-width="0.95" fill="none"/>
<rect x="109.0" y="42.7" width="713.9" height="441.1" fill="none" stroke="#6a6a6a" stroke-width="1.25"/>
<text transform="translate(103.0,473.9) scale(0.938,1)" font-size="30.1" text-anchor="end" stroke="#000" stroke-width="0.5" >0.00</text>
<text transform="translate(103.0,417.1) scale(0.938,1)" font-size="30.1" text-anchor="end" stroke="#000" stroke-width="0.5" >0.02</text>
<text transform="translate(103.0,360.2) scale(0.938,1)" font-size="30.1" text-anchor="end" stroke="#000" stroke-width="0.5" >0.04</text>
<text transform="translate(103.0,303.4) scale(0.938,1)" font-size="30.1" text-anchor="end" stroke="#000" stroke-width="0.5" >0.06</text>
<text transform="translate(103.0,246.5) scale(0.938,1)" font-size="30.1" text-anchor="end" stroke="#000" stroke-width="0.5" >0.08</text>
<text transform="translate(103.0,189.7) scale(0.938,1)" font-size="30.1" text-anchor="end" stroke="#000" stroke-width="0.5" >0.10</text>
<text transform="translate(103.0,132.9) scale(0.938,1)" font-size="30.1" text-anchor="end" stroke="#000" stroke-width="0.5" >0.12</text>
<text transform="translate(103.0,76.0) scale(0.938,1)" font-size="30.1" text-anchor="end" stroke="#000" stroke-width="0.5" >0.14</text>
<text transform="translate(199.5,517.5) scale(0.938,1)" font-size="30.1" text-anchor="middle" stroke="#000" stroke-width="0.5" >2</text>
<text transform="translate(351.7,517.5) scale(0.938,1)" font-size="30.1" text-anchor="middle" stroke="#000" stroke-width="0.5" >4</text>
<text transform="translate(503.9,517.5) scale(0.938,1)" font-size="30.1" text-anchor="middle" stroke="#000" stroke-width="0.5" >6</text>
<text transform="translate(656.1,517.5) scale(0.938,1)" font-size="30.1" text-anchor="middle" stroke="#000" stroke-width="0.5" >8</text>
<text transform="translate(808.3,517.5) scale(0.938,1)" font-size="30.1" text-anchor="middle" stroke="#000" stroke-width="0.5" >10</text>
<text transform="translate(465.8,562.7) scale(1.0,1)" font-size="33.8" text-anchor="middle" stroke="#000" stroke-width="0.6" >r</text>
<text transform="translate(31.3,288.0) rotate(-90) scale(0.92,1)" font-size="36.5" font-style="italic" stroke="#000" stroke-width="0.4">V</text>
<text transform="translate(37.5,265.8) rotate(-90) scale(1.03,1)" font-size="24.2" stroke="#000" stroke-width="0.4">eff</text>
<text transform="translate(324.3,28.0) scale(0.978,1)" font-size="32.0" text-anchor="start" stroke="#000" stroke-width="0.3" font-weight="bold">Q=0.5,<tspan font-style="italic">α</tspan>=0.5,Λ=10<tspan font-size="22.3" dy="-12.9">−4</tspan></text>
<path d="M372.6 94.6H410.7" stroke="#ff0000" stroke-width="3.1" fill="none"/>
<text transform="translate(427.0,104.6) scale(0.96,1)" font-size="30.1" text-anchor="start" stroke="#000" stroke-width="0.5" >a=0 b=7</text>
<path d="M367.4 160.2H405.5" stroke="#800080" stroke-width="3.1" fill="none"/>
<text transform="translate(421.8,170.3) scale(0.96,1)" font-size="30.1" text-anchor="start" stroke="#000" stroke-width="0.5" >a=0.2 b=7</text>
<path d="M367.4 238.6H405.5" stroke="#0000ff" stroke-width="3.1" fill="none"/>
<text transform="translate(421.8,249.0) scale(0.96,1)" font-size="30.1" text-anchor="start" stroke="#000" stroke-width="0.5" >a=0.4 b=7</text>
<path d="M368.2 316.1H406.4" stroke="#000000" stroke-width="3.1" fill="none"/>
<text transform="translate(422.8,326.2) scale(0.96,1)" font-size="30.1" text-anchor="start" stroke="#000" stroke-width="0.5" >a=0.6 b=7</text>
<path d="M590.9 91.5H629.5" stroke="#ff0000" stroke-width="3.1" stroke-dasharray="7.2 3" fill="none"/>
<text transform="translate(645.5,101.6) scale(0.973,1)" font-size="30.1" text-anchor="start" stroke="#000" stroke-width="0.5" >a=0 b=−7</text>
<path d="M585.0 156.6H623.7" stroke="#800080" stroke-width="1.3" stroke-dasharray="6.3 4" fill="none"/>
<text transform="translate(639.8,166.1) scale(0.973,1)" font-size="30.1" text-anchor="start" stroke="#000" stroke-width="0.5" >a=0.2 b=−7</text>
<path d="M582.1 240.0H621.5" stroke="#0000ff" stroke-width="1.3" stroke-dasharray="6.3 4" fill="none"/>
<text transform="translate(636.8,250.1) scale(0.973,1)" font-size="30.1" text-anchor="start" stroke="#000" stroke-width="0.5" >a=0.4 b=−7</text>
<path d="M583.0 313.4H622.0" stroke="#000000" stroke-width="1.3" stroke-dasharray="6.3 4" fill="none"/>
<text transform="translate(637.8,322.7) scale(0.973,1)" font-size="30.1" text-anchor="start" stroke="#000" stroke-width="0.5" >a=0.6 b=−7</text>
</svg></body></html>
